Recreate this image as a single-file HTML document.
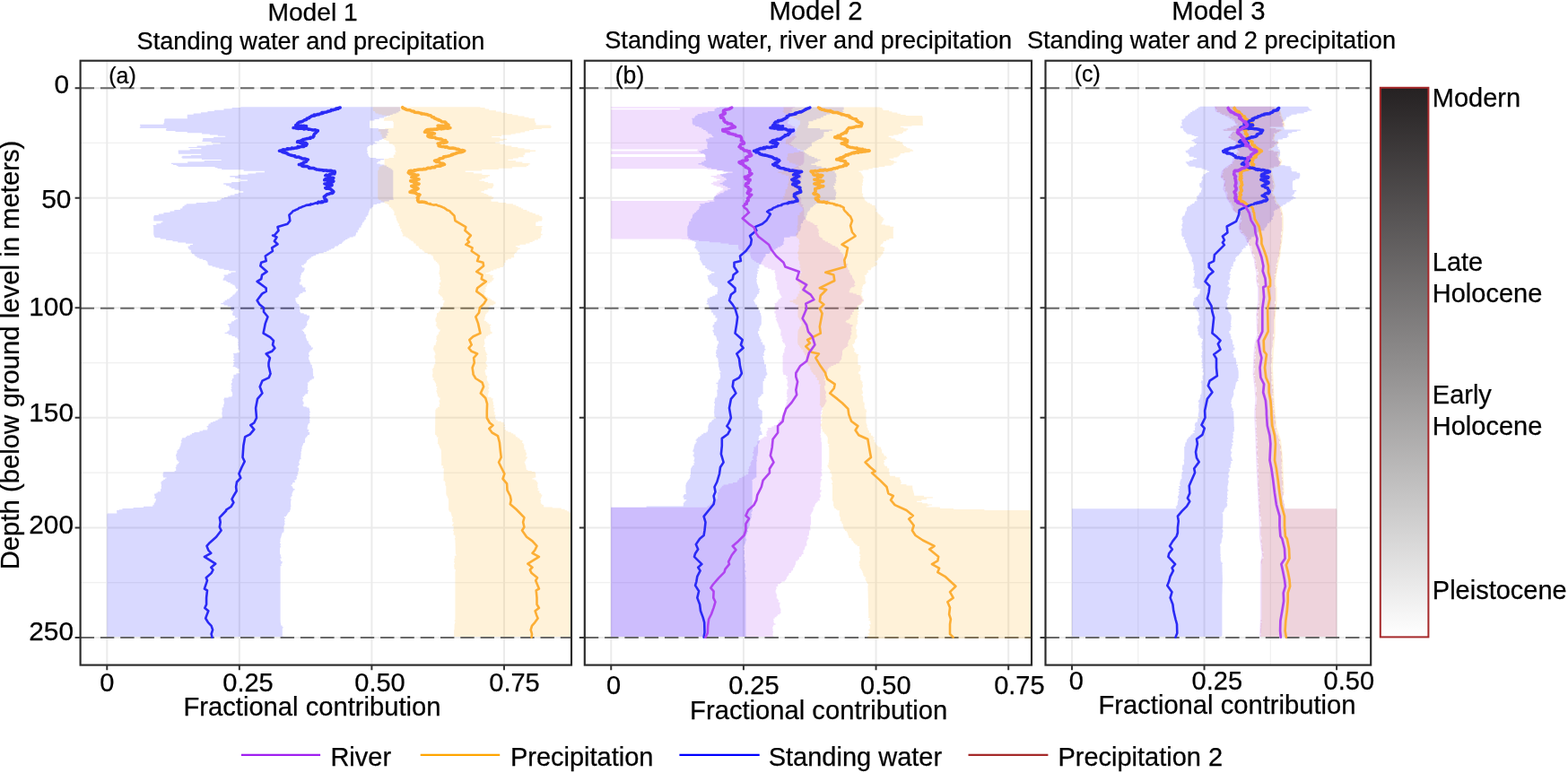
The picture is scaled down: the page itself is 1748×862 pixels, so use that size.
<!DOCTYPE html>
<html lang="en"><head><meta charset="utf-8"><title>Fractional contribution models</title>
<style>html,body{margin:0;padding:0;background:#fff}body{width:1748px;height:862px;overflow:hidden}svg{display:block}text{font-family:"Liberation Sans", sans-serif;fill:#000;stroke:#000;stroke-width:0.25px}</style>
</head><body>
<svg width="1748" height="862" viewBox="0 0 1748 862">
<rect width="1748" height="862" fill="#fff"/>
<defs><linearGradient id="cb" x1="0" y1="0" x2="0" y2="1"><stop offset="0" stop-color="#252122"/><stop offset="0.5" stop-color="#8f8d8d"/><stop offset="1" stop-color="#ffffff"/></linearGradient>
<clipPath id="cp1"><rect x="89.6" y="67.7" width="548.4" height="673.9"/></clipPath>
<clipPath id="cp2"><rect x="651.8" y="67.7" width="499.2" height="673.9"/></clipPath>
<clipPath id="cp3"><rect x="1165.5" y="67.7" width="363.7" height="673.9"/></clipPath>
</defs>
<g id="panel1">
<path d="M89.6 159.47H637.0M89.6 282.03H637.0M89.6 404.57H637.0M89.6 527.12H637.0M89.6 649.68H637.0" stroke="#f0f0f0" stroke-width="1.2" fill="none"/>
<path d="M89.6 98.20H637.0M89.6 220.75H637.0M89.6 343.30H637.0M89.6 465.85H637.0M89.6 588.40H637.0M89.6 710.95H637.0M119.30 67.7V741.6M266.85 67.7V741.6M414.40 67.7V741.6M561.95 67.7V741.6" stroke="#ebebeb" stroke-width="2" fill="none"/>
<path d="M89.6 98.20H637.0M89.6 343.80H637.0M89.6 711.00H637.0" stroke="#686868" stroke-width="2.05" stroke-dasharray="15.4 6.9" fill="none"/>
<g clip-path="url(#cp1)">
<path d="M268.2 119.3V120H258.6V121.3H249.5V122.7H238.9V124H231.4V125.3H224V126.5H215.7V127.8H208.8V129.1H208.7V130.3V131.5H209V132.3H183.6V133.2H183.1V134.6V135.9V137.3H182.3V138.7H156.1V140.2H156.5V141.8H155.8V143H185.5V144H184.9V145.1H185.3V146.1H195.5V147.1H208.7V148.3H225.1V149.5H233.8V150.6H242.8V151.7H251.2V152.8H238.1V153.9H226.2V155.2H226.1V156.5H225.4V157.9H235.7V159.3H245.8V160.4H237.2V161.4H229.7V162.5H219.6V163.9H210.3V165H224.3V166.2H211.7V167.5H198.7V168.9V170.3H198.9V171.7H224.2V172.9H212.9V173.8H203.2V174.7H202.3V175.7H203.2V176.8H224.9V177.9H246.7V179H227.6V180.3H209.2V181.7H190.9V182.9H193V184H196.7V185.1H198.5V186.1H239.6V187H242.4V187.9H247.1V189.2H271.7V190.7H294.9V192.2H285.2V193.4H276.4V194.7H265.5V196H256.3V197.4H262V198.9H268.1V200.5H275.9V201.8H267.6V203.1H258.1V204.3H249.2V205.7H252.1V207.2H255.7V208.7H257.8V210.2H261.5V211.8H266.6V213.3H271.2V214.7H265.7V216.1H261.5V217.4H256.7V218.6H253.7V219.9H249.9V221.1H247V222.3H245.5V223.5H242V224.7H231.3V226H218.7V227.2H207.7V228.5H205.5V229.9H203.7V231.2H203.2V232.6H201V234H194.3V235.5H189.4V237H182.4V238.4H176.8V239.9H171.8V241.3H171.2V242.7V244.1V245.4H171.4V246.6H181.4V247.8H179.4V249.3H174.3V250.9H170.7V252.4H171.2V254V255.6V257.1V258.7V260.3V261.8H171.6V263.1H171.8V264H172.6V265.1H178.6V266.5H185.1V267.9H192.4V269.2H198.2V270.5H207.1V271.7H214.9V273.1H211.9V274.6H209.6V276.1H209.8V277.5H211.2V278.8H212.8V280.2H212.7V281.7H213.9V283.2H216.5V284.7H217.6V286.1H219.5V287.4H222.3V288.7H226.2V290H229.5V291.3H231.1V292.5H231.6V293.7V295H232.5V296.2H236.6V297.4H240.4V298.6H244.3V299.8H249.6V301.1H255.2V302.3H262.7V303.6H257.4V305H254.3V306.4H249.5V307.7H250.3V309H249.7V310.2H248.9V311.5H248.5V312.7H252.2V313.9H253.8V315.1H256.8V316.4H259.2V317.8H261.6V319.2H262.3V320.5H262.9V321.9H265.2V323.3H265V324.6H263.4V325.9H262.6V327.2H261.6V328.5H259.6V329.8H258.6V331H257.1V332.2H255.6V333.5H253V334.8H250.6V336.4H248.8V337.9H246.3V339.3H249.6V340.5H253.7V341.7H257.5V343H257.1V344.4H257.4V345.7H257.8V347.1H259.9V348.4H259.1V349.6V350.9H259.5V352.1H261.8V353.3H261.9V354.5H264.9V355.8H262.6V357.1H261V358.3H258.3V359.6H257.5V360.9H253.8V362.2H254.8V363.5H255.3V364.8H255.8V366H255.7V367.3H255.8V368.5H254.5V369.6H253.2V370.7H250.6V372H254.7V373.5H258.5V374.9H261.9V376.4H264.5V377.9H265.3V379.4H265.6V381H265.2V382.5H265.5V384H265.2V385.5H265.7V386.9H265.9V388.2H265.2V389.5H266.4V390.8H267.2V392.1H267.1V393.2H263.7V394.1H259.9V395.3H260.6V396.7H260.5V398.1H260.3V399.6H261.2V401H260V402.5H261.3V403.9H260.1V405.2H260.8V406.5H260.3V407.7H259.6V408.9H262.5V410.1H264.3V411.3H266.7V412.6H266.5V413.8V415H267.2V416.3H263.4V417.7H260.4V419.1H260.3V420.6H260.4V422.1H258.9V423.7H258.3V425.2H259V426.7H257.9V428.2H257.6V429.7H258.5V431.2H257.6V432.6H258.3V434.1H257.5V435.6H258.1V437H258.8V438.5H259.1V440V441.4H258.3V442.6H254.6V443.5H250V444.8H249.3V446.3H249.7V447.9H250V449.5H249.7V451.1H249.1V452.6H249.2V454.2H247.7V455.8H247.4V457.3H247.8V458.9H247.5V460.5H247.3V462.1H247.5V463.6H247.8V465.2H247.5V466.5H244.5V467.6H242.7V468.7H240.2V469.9H237.3V471.1H234.7V472.4H232.7V473.6H232.3V475H230.6V476.5H231.6V478.1H231.2V479.4H226.1V480.6H222.4V481.9H216.4V483.1H213.9V484.4H211.7V485.7H208.2V487H206.9V488.3H203.1V489.6H202.5V491H201.8V492.3H202.4V493.7H201.6V495.1H201.5V496.5H201.1V497.9H200.4V499.4H199.8V501H198.4V502.5H197.2V504H197.4V505.5H196.6V507.1H196V508.6H196.5V510.1H196.6V511.7H196.9V513.2H198.3V514.7H199.6V516.1H199V517.3H197.5V518.5H196.4V519.8H196.5V521.1H195.7V522.3H196.2V523.6V524.9H194.6V526.2H182.3V527.5H181.6V528.8V530V531.3H182V532.4H185.5V533.5H183.9V534.7H182.1V535.9H180.5V537.3H179.4V538.9H179.6V540.5H180V542H179.7V543.6H179.9V545.2H178.9V546.8H179.1V548.2H175.8V549.4H174.3V550.6H172.1V551.9H172.2V553.3H172.8V554.6H172.3V556H174V557.4H173.6V558.9H173.1V560.4H171.7V561.8H171.6V563.3H170.2V564.7H160V565.9H148.6V567.1H136.4V568.2H132.7V569.1H130.1V570.2H130.2V571.6H130.3V572.5H119.7V573.6H119.3V575.2V576.8V578.4V580V581.6V583.2V584.8V586.4V588V589.5V591.1V592.7V594.3V595.9V597.5V599.1V600.7V602.3V603.9V605.5V607.1V608.7V610.3V611.9V613.5V615.1V616.7V618.3V619.9V621.5V623.1V624.6V626.2V627.8V629.4V631V632.6V634.2V635.8V637.4V639V640.6V642.2V643.8V645.4V647V648.6V650.2V651.8V653.4V655V656.6V658.2V659.7V661.3V662.9V664.5V666.1V667.7V669.3V670.9V672.5V674.1V675.7V677.3V678.9V680.5V682.1V683.7V685.3V686.9V688.5V690.1V691.7V693.2V694.8V696.4V698V699.6V701.2V702.8V704.4V706V707.6V709.2V710H315.7V709.3H314.8V707.8V706.3V704.8V703.3V701.9V700.4H315.6V698.9H314.6V697.4H313.2V696H313V694.5H312.7V693V691.5H312.6V689.9V688.3V686.7V685.1V683.5V682V680.4V678.8V677.2V675.6V674V672.4V670.8V669.2V667.6V666V664.4V662.9V661.3V659.7V658.1V656.5V654.9V653.3V651.7V650.1V648.5V646.9V645.3V643.8V642.2V640.6V639V637.4V635.8V634.2V632.6H312.5V631.2H313.7V630H313.3V628.8H314.4V627.4H314.8V625.9H313.2V624.3H312.4V622.8H313.7V621.3H312.9V619.7V618.2H312.1V616.7V615.2V613.6V612.1V610.6H312.9V609.1H312.5V607.5H312.9V606H312.1V604.5H312.6V602.9H312.4V601.4H312.7V599.9H313.2V598.4H313.7V596.8H314.1V595.3H314.7V593.8H316.4V592.3H316.7V590.8H316.6V589.3H316.3V587.8H316.4V586.4H317V584.9H317.6V583.4H317.2V582H317.6V580.5H317V579H317.9V577.6H316.8V576.1H319V574.8H320V573.4H320.7V572.2H321.6V570.9H322.9V569.6H323.5V568.2H323.9V566.7H323.8V565.2H324.4V563.7H324.2V562.2H324.1V560.7V559.2H324.3V557.7H324.7V556.2H323.7V554.7H324.7V553.3H325.8V551.9H325.4V550.5H325.8V549.2H326.4V547.8H327.2V546.4H328.6V545H326.7V543.4H325.8V541.9H324.6V540.5H326V539.3H326.4V538.1H328.9V536.7H328.4V535.3H330.3V533.8H331V532.3H330.5V530.9H331.5V529.3H332.4V527.8H331.9V526.2H332.8V524.6H333.1V523.1V521.5H331.8V519.9H332.8V518.4H334.1V516.8H333.2V515.3H333.6V513.8H334V512.3H335.6V510.7H335.3V509.3H335.4V507.8H335.5V506.4H335.7V505H335.5V503.6H336.2V502.1H336V500.7H336.7V499.3H336.5V497.9H337.1V496.5H337.9V495.3H338.2V494.1H339.8V492.8H340.1V491.4V490V488.7H340.8V487.4H342.3V486.1H343V484.9H344.9V483.6H345.2V482H343.7V480.5H344.3V479H342.6V477.4H342.7V475.9H342.9V474.5H343.3V473.3H344V472.1H345.3V470.7V469.2H345.4V467.7H345V466.2H345.7V464.7H344.9V463.2H345.4V461.7H345.1V460.2H345.8V458.7H345.1V457.2V455.7H344.5V454.5H341.9V453.6H338.3V452.4H337.6V451H338.6V449.6H338.5V448.1H337.7V446.7H337.2V445.2H338.1V443.8H337.5V442.3H339.1V440.8H340.4V439.3H343.2V437.8H343V436.4H343.8V434.9H342.7V433.5H343.1V432.1H342.8V430.7H343.1V429.2H343.3V427.8H342.8V426.4H344.6V425.1H345.6V423.8H347.6V422.6H349.9V421.2H350.2V419.6H349V418H349.2V416.4H348.9V414.9V413.6V412.2V410.8H348.1V409.4H347.8V408.1H347.9V406.7H346.5V405.3H345.7V403.8H345.5V402.3H344.7V400.7H344.1V399.1V397.6H345V396H344.2V394.4V392.9H345.1V391.6H346.5V390.2H348.2V388.8H349V387.4H346.9V386.1H346.4V384.7H344.9V383.3H343.8V381.9V380.3H342.2V378.8H341.8V377.3H340.9V375.8V374.2H341.2V372.8H339.6V371.4H339.1V370H338V368.7H336.7V367.4H338.7V366.1H340.2V364.9H340.7V363.6H342V362.2H342.5V360.9H342.1V359.5H342.3V358.2H343.2V356.9H344.1V355.6H344.9V354.3V353H345.1V351.8H342.1V350.6H338.8V349.3H335V348.1H334.3V346.8V345.5V344.2V343H334.5V341.6H333.5V340.2H333.3V338.9H331.4V337.5H330.2V336.1H329.6V334.8H329.5V333.4H329.4V332.1H331.7V330.9H333V329.6H333.5V328.3H334.8V327H337.4V325.6H341.1V324.3H340.7V323.1H340.1V321.8H340.6V320.5H337.5V318.9H336.8V317.4H333.9V315.9H333.8V314.4H335.3V312.8H335.5V311.3H334.5V309.8H335.3V308.3H335.2V306.8H336V305.4H336.2V304.1H337.7V302.7H338.9V301.3H339.5V299.9V298.6H337.1V297.2H336.1V295.7H338.8V294.2H340.7V292.7H341.8V291.3H342.3V290H343.7V288.7H345.5V287.4H347.2V286.1H349.4V284.9H352.2V283.6H355.4V282.3H360.7V281H364.1V279.7H366.7V278.4H369.2V277.2H372.4V275.9H373.3V274.6H376.9V273.3H378.2V272H380.9V270.7H381.9V269.5H383.4V268.2H385.1V266.9H387.4V265.7H389.6V264.6H393.7V263.5H396.2V262.3H396.8V260.8H397V259.3H398.9V257.9H398.7V256.4H400.3V255.1H400.4V253.7H402.5V252.3H402.7V250.9H403.7V249.3H404.2V247.8H405.7V246.3H406.5V244.8H408.1V243.2H407.6V241.7H409.2V240.2H410.5V238.6H410.7V237.1H411.2V235.6H411.8V234.1H412.3V232.5H414.5V231H415.8V229.5H416.4V228.1H420.1V226.9H424.3V225.7H428.5V224.4H433.8V223H438.7V221.5H438.3V219.9V218.4V216.8V215.2V213.7V212.1V210.5V208.9V207.4V205.8V204.2V202.7V201.1V199.5V198V196.4V194.8V193.2V191.7V190.1H437.4V188.6H435.5V187.2H433.1V185.9H431V184.5H428.4V183.4H423.8V182.4H420V181.2H421.6V179.7H424.1V178.2H428V176.9H419.3V176H412.3V174.9H411.2V173.6H410.3V172.4V171.1H409.2V169.8H410.1V168.5H409.3V167.1V165.7V164.3H410.2V163H411.9V161.8H416.1V160.6H420.2V159.5H418.2V158.6H417.6V157.5H422.8V156.1H425.6V154.9H427.8V154H430.7V152.8H430.2V151.3H432.2V149.8H431.4V148.2H433.3V146.7H432.2V145.2H433V143.9H422V143H412.4V141.8H412.1V140.4V138.9V137.4V136H412.2V134.5H417.5V133H422.8V131.4H428.2V130.2H430.9V129.3H434.8V128.1H437.8V126.8H441.7V125.4H444.4V124H446.3V122.7H446V121.3V120H445.9V119.3Z" fill="#0000ff" fill-opacity="0.15"/>
<path d="M415.7 119.3V120V121.3V122.7H416V124H417.9V125.4H418.8V126.5H421.7V127.5H425.6V128.4H430V129.3H435.5V130.2H432.1V131.1H428.8V132.3H428.2V133.6H427.9V134.8H438V136H438.7V137.4V138.9V140.4V141.8H438.5V143H429.3V143.9H422V145.2H421.7V146.7H424.3V148.2H424.1V149.7H425.7V151.1H425.5V152.4H426.1V153.8H427.4V154.9H428.2V155.9H430.5V156.9H433.3V158.2H433.8V159.4H434.2V160.6H437.7V161.8H439.5V163H439.8V164.3H440.6V165.7H440.3V167.1H440.8V168.5H441.6V169.8H440.2V171.1H440.7V172.4H438.9V173.6H438.6V174.9H439.2V176H433.4V176.9H428.4V178H428.6V179.3V180.6V181.9V183.2H428.7V184.3H426.2V185.2H423.8V186.3H422.2V187.5H422.6V188.7H422.1V190.1H421.2V191.7V193.2V194.8V196.4V198V199.5V201.1V202.7V204.2V205.8V207.4V208.9V210.5V212.1V213.7V215.2V216.8V218.4V219.9V221.5H422.1V223H424.7V224.4H427.4V225.7H429.2V226.9H431.7V228.1H433.5V229.5H434V231H435.7V232.5H437.5V234.1H438.4V235.6H439.5V237.1H439.6V238.6H439.3V240.2H441.4V241.7H441.3V243.2H442V244.8H442.1V246.3H443.1V247.8H443.6V249.3H444.9V250.9H444.4V252.3H445.8V253.7H445.9V255.1H447.5V256.4H447V257.9H447.9V259.3H448.5V260.8H449.4V262.3H448.8V263.6H452.3V264.7H454.6V266H456.3V267.4H458.2V268.8H460.6V270.1H461.2V271.5H463.6V272.9H463.7V274.2H466.5V275.5H467V276.8H468.2V278.1H470.6V279.4H472.4V280.7H473.5V282.1H476.7V283.4H480.4V284.8H482.4V286.2H482.9V287.7H483.2V289.2H484V290.6H485.8V292.1H487.2V293.6H488.7V295.1H489.4V296.6H490V298.2V299.7H490.2V301.2H489.7V302.8H489.6V304.3H489.2V305.8H490V307.3H490.2V308.9H490.8V310.4H490.5V311.9H491.5V313.4H491.3V315H489.8V316.5H489.9V318H490.8V319.6H489.6V321H490.3V322.4H489.1V323.8H488.9V325.1H488.5V326.5H488.8V327.9H490V329.3H491.1V330.6H493V332H493.8V333.4H493.4V334.8H495.5V336.1H495.3V337.5H494.3V338.9H494V340.2H494.3V341.6H492.8V343H491.8V344.5H491.3V346H490.3V347.4H488.8V348.9H487.1V350.3H486.9V351.7H487V353.1H486.4V354.5H485.5V355.9H485.4V357.5H485.7V359.1H486.6V360.6H486.5V362.2H485.8V363.8H487.3V365.4H487.9V366.6H489.1V367.5H490.7V368.7H490.2V370.2H488.9V371.6H488.8V373.1H487.6V374.6H486.5V376.1H486.7V377.6H486.3V379.1H487.1V380.6H486.3V382.2H485.8V383.7H485.6V385.1H483.8V386.3H483.6V387.5H483V388.8H483.1V390.2H483.6V391.6H484.5V392.9H485.1V394.4H485.6V395.8H484.6V397.3H484.4V398.8H484.7V400.2H485.3V401.7V403.2H485V404.6H485.4V406.1H484.3V407.6H483.6V408.9H483.7V410.1H482.9V411.3H481.7V412.6H482.3V414V415.3H482.6V416.7H482.1V418.2H482V419.7H482.2V421.2H483.4V422.7H482.7V424.1H484.2V425.4H485V426.8H485.8V428.2H486.3V429.6H486V431.1H487.4V432.5H486.7V433.9H487.2V435.3H486.3V436.8H487V438.2H487.3V439.6H487.8V440.9H487.7V442.2H489V443.4H490.6V444.8H490.5V446.3H489.4V447.8H489.9V449.3H490.2V450.9H489.5V452.4H489.9V453.8H487.8V455.2H486.2V456.7H485.4V458.3H485.3V459.9V461.4V463V464.6V466.2H485.2V467.7V469.3V470.9V472.5V474.1H485.1V475.6V477.2V478.8V480.4V481.9H485V483.5H485.1V484.9H486.4V486.1H486.8V487.4H488.6V488.6H488.1V489.9V491.2V492.5V493.8H487.8V495H488.9V496.3H489.4V497.6H490V498.9H490.4V500.2H491.3V501.5H491.8V503H491.9V504.5V505.9H492V507.4V508.9V510.3H492.1V511.8V513.3V514.7H492.2V516.2H492.1V517.8V519.3H493.9V520.8H493.4V522.3H494.9V523.9H494.7V525.4H494.6V527V528.6V530.1V531.7V533.3V534.8H494.4V536.3H495.9V537.7H496.6V539.1H496.3V540.4H496.6V541.9H497.3V543.5V545.1V546.6V548.2V549.8V551.3H497.6V552.8H498.6V554.2H498.9V555.6H499.9V556.9V558.3H500.1V559.8V561.2V562.6V564V565.4V566.9V568.3H500.3V569.6H501V570.7H502.6V572.1H503V573.5H503.3V575H503.7V576.5H504.8V577.9H504V579.4H504.2V580.8H504.3V582.2H505.7V583.7H504.9V585.1H504.1V586.5H505.6V587.9H505.7V589.4V590.8H504.9V592.3H506V593.8H505.6V595.3V596.8H507.3V598.4H507.6V599.9H506.9V601.4H507.4V602.9H507.5V604.5V606H507.6V607.5V609.1H507.7V610.6V612.1V613.6H507.8V615.2V616.7H507.9V618.2H508.6V619.7H506.8V621.3H507.1V622.8H506.3V624.3H506.4V625.9H506.1V627.4H506.9V628.9H506.3V630.4H506.2V632H506.4V633.5H506.7V635H507.9V636.6H507.6V638.1H507.4V639.7V641.2V642.8V644.4V646V647.5V649.1V650.7V652.2V653.8V655.4V657V658.5V660.1V661.7V663.2V664.8V666.4V667.9V669.5V671.1V672.7V674.2V675.8V677.4V678.9V680.5V682.1V683.7V685.2V686.8V688.4V689.9V691.5H506.7V693.1H507.5V694.6H507V696.1H506.6V697.6V699.2V700.7V702.2H506.1V703.6V705V706.4V707.9V709.3V710H639.9V709.2H640.3V707.6V706V704.4V702.8V701.2V699.7V698.1V696.5V694.9V693.3V691.7V690.1V688.5V686.9V685.3V683.7V682.2V680.6V679V677.4V675.8V674.2V672.6V671V669.4V667.8V666.2V664.7V663.1V661.5V659.9V658.3V656.7V655.1V653.5V651.9V650.3V648.7V647.2V645.6V644V642.4V640.8V639.2V637.6V636V634.4V632.8V631.2V629.6V628.1V626.5V624.9V623.3V621.7V620.1V618.5V616.9V615.3V613.7V612.1V610.6V609V607.4V605.8V604.2V602.6V601V599.4V597.8V596.2V594.6V593.1V591.5V589.9V588.3V586.7V585.1V583.5V581.9V580.3V578.7V577.1V575.6V574H639.9V572.7H636V571.6H634.3V570.2H632.2V568.9H629.7V567.7H625.7V566.6H615.8V565.5H606.3V564.3H606V563.1H604.4V561.9H603.3V560.5H602.7V559H603V557.5H602.4V555.9H603.1V554.4H603.8V552.9H604.3V551.4H602.9V550.1H601.3V548.7H601.4V547.3H599.5V545.9H600.3V544.3H599.2V542.8H599.4V541.3H599.2V539.8H599.7V538.2H598.8V536.9H597.9V535.6H595.9V534.4H593.5V533.3H595.6V532.4H597.4V531.3H597.2V529.9V528.5V527.2H596.4V526H592.8V525.1H588.4V523.9H586.8V522.3H586.4V520.8V519.3H585.9V517.8H585.4V516.2H584.7V514.8H585.6V513.4H586.3V512H587.2V510.7H587.9V509.2H586.1V507.7H586.9V506.2V504.6H585.8V503.1H585.9V501.6H584.5V500H584.3V498.5H584.1V497H584.4V495.5H583.4V493.9H582.1V492.4H582.6V491H580.2V489.8H579.1V488.6H577V487.3H575V485.9H574.6V484.5H572.2V483.2H569.8V481.8H566.3V480.4H563.9V479H562.3V477.7H563.3V476.3H561.5V474.9H562.9V473.5H561.6V472.2H561.7V470.9H558.8V469.7H554.8V468.4H552.9V467.1H552.2V465.5H552V464H552.5V462.5H551.3V460.9H551.7V459.4H550.7V457.9H550.6V456.4H551.5V454.8H549.9V453.3H550.7V451.8H549.8V450.3H550.1V448.7H549.7V447.2H549.2V445.7H549.6V444.2H547.5V442.8H544V441.4H543.7V440H544.2V438.5H544.8V437H545.3V435.6H544.3V434.1H545.2V432.6H545.3V431.2H544.3V429.7H545.7V428.2H544.7V426.7H544.1V425.2H543.2V423.7H542.7V422.1H543V420.6H543.2V419.1H541.8V417.7H541.2V416.6H541.3V415.2H540.6V413.7H540.8V412.1H542.5V410.6H542.2V409.1H543.5V407.7H543.1V406.5H542.1V405.2H541.2V403.8H542.1V402.3H542.7V400.7V399.1V397.6H541.9V396H543.3V394.4H542.3V392.9H541.6V391.4H540.9V390H540.6V388.5H541V387H539.1V385.5H539.8V383.9H540.5V382.4H540.3V380.8H539.9V379.2H540.1V377.7H541.7V376.1H541.9V374.7H544V373.5H546.3V372.2H548.5V371V369.8H546.8V368.6H546.7V367.3H546.4V365.9H546.7V364.5H546V363.2H547.3V361.8H544.9V360.4H543.4V359H541.9V357.7H539.7V356.2H540.4V354.7V353.2H541V351.6H541.4V350.1H542.5V348.6H544.3V347.1H544.8V345.7H545.2V344.4H543.9V343H544.6V341.7H546.4V340.5H550.2V339.3H552.4V338H552.5V336.6H550.7V335.2H548.3V333.8H546.5V332.4H544V330.9H541.7V329.3H540.2V327.9V326.6V325.4H541.5V324.1H540.4V322.8H541.9V321.5H541.3V320.1H542.5V318.7H543V317.3H543.7V315.9H546.3V314.4H548.3V312.8H549.9V311.3H550.6V309.8H549V308.3H549.7V306.8H546.3V305.4H541.5V304.1H544.8V302.9H546.9V301.7H550.2V300.5H553.6V299.2H557.4V298H561V296.8H561.6V295.5H562.3V294.2H562.1V292.9H563.5V291.6H563.6V290.2H565.9V288.7H569.8V287.2H573.2V285.8H573.1V284.6H572.8V283.4H573.9V282.1H575.7V280.7H576.5V279.3H577.7V277.9H579.7V276.6H577V275.2H574.9V273.9H579.5V272.7H586.2V271.4H590.5V270.1H593.7V268.8H596V267.4H599.9V266H602.3V264.7H602.8V263.6H602.9V262.2H604.6V260.8H603V259.3H603.3V257.8H603.8V256.3H604.2V254.8H603.6V253.3H604.6V252.1H597.3V251H597.2V249.8V248.6H597.5V247.5H600.1V246.6H604V245.4H604.5V243.8V242.3H603.8V240.9H601.3V239.5H596.9V238.1H593.6V236.7H590.2V235.4H587.4V234H583.2V232.6H580.9V231.2H578.1V229.9H575.4V228.5H571.9V227.2H564.3V226H555.5V224.7H547.6V223.5H547.4V222.3H549.6V221.1H550.2V219.8H548.3V218.4H544.4V217.1H542.4V215.9H539.5V214.7H536.5V213.3H539.9V211.8H543.7V210.2H548.9V208.7H549.8V207.2H550.4V205.7H549.8V204.3H544.1V203.1H540.2V201.8H534.4V200.5H537V199.2H541.2V197.8H543.9V196.4H546V195H537.4V193.4H527.9V191.9H518.8V190.5H537.1V189.1H555.9V187.7H570.9V186.3H586.9V185H589.1V183.6H590.7V182.1H582.4V180.6H574.9V179.1H566.4V177.7H571.9V176.5H577.8V175.3H583.8V174H583.4V172.8H585.1V171.6H585.4V170.3H591.1V168.9H597.1V167.6H590.7V166.4H584.6V165.2H577.3V163.9H570.3V162.5H563.2V161.1H557.5V159.8H552.2V158.5H556.7V157.2H561.3V156H565.1V154.7H557.5V153.3H548.2V152H559.2V150.6H569.6V149.4H574.7V148.5H580.4V147.5H585.2V146.2H590.1V145H595.1V143.9H603.9V143H614.2V141.9H614.6V140.5H613.7V139.4H597.4V138.3H597.6V137H596.7V135.7H596.3V134.4H595.9V133.1H596.3V131.9H589.5V130.7H584.5V129.4H577.5V128.2H571.2V127H565.2V125.8H559.1V124.5H552.9V123.1H545.3V121.6H540.7V120.1H535.4V119.3Z" fill="#ffa500" fill-opacity="0.15"/>
<polyline points="448.7,119.7 449.2,120.5 451.6,121.4 451.2,121.4 453.3,122.4 453.7,122.5 456.9,122.7 457.7,123.2 458.4,123.7 461.5,124.3 460.4,124.3 462.2,125.2 465.6,125.5 466.1,125.5 468.5,126.1 470.2,126.5 469.5,126.9 471.6,127.1 473.2,127.1 474,127.4 475.2,127.4 478.1,128.5 480,128.7 479.9,128.8 481.3,129.8 481.4,130.5 483.6,130.7 484.1,131.8 486.3,132.5 486.8,133 489.1,133.4 488.9,134 490.4,134.3 491.5,134.9 492.4,135.7 496.2,135.9 496.7,137 497.3,137.1 496.8,137.6 500.1,139.3 500.1,139.8 499.1,139.5 497.1,140.3 497.2,140.3 493.9,140.4 493.1,140.3 491,140.6 491.1,140.3 488.6,140.3 488.1,140.2 489.8,140.5 490.5,140.9 491.8,140.7 492.6,141.3 493.8,141.1 495.1,141.8 497.9,141.9 497.8,142 500,141.9 501.9,142.6 499,143.2 498,142.6 497,143.1 495,143 494.5,143.6 492,143.2 492.1,143.9 490.7,143.5 489.8,143.5 486.5,143.8 487.7,144.2 484.4,144.3 484.7,144 482.6,144.2 480.1,144.2 478.6,144.4 476.7,144.6 475.5,145.1 475.3,145 474.7,145.5 473.5,147.2 475.7,147.1 476.2,147.7 477.1,147.6 478.8,147.7 481.4,147.9 482.7,148.2 482.5,148.6 484.5,149 481.6,149 481.1,149.7 481.2,150.6 477.2,150.5 477.1,150.8 476.9,151.9 478.4,152.7 479.9,153 481.3,152.8 481.1,153.2 485,153.3 485.1,153.7 486,154.4 487,154.5 489.7,154.9 490.5,155.1 491.8,154.9 492.9,155.7 494.7,156.7 496.8,156.6 495.8,157.8 498.2,158.5 497.7,158.8 494.7,159.4 493.3,158.7 491.1,158.9 491.7,159.2 490.2,160.2 488.1,160 490.1,161.7 489.1,162.7 490.2,163.1 492.7,163.4 492.4,163.6 493.2,163.4 497.2,163.8 496.4,164.3 498.3,163.7 498.4,164.2 500.6,165.1 501.7,165.2 504.8,165 506.6,165.5 506.5,165.5 507.8,165.6 509.2,166.6 510.8,166.2 511.8,166.8 512.6,167.3 513.6,167.9 515.4,167.5 517.8,168.2 516.7,168.4 516.3,169 513.8,169.8 511.5,170.1 511.5,170.1 511,170.1 508.3,171 508.2,171.1 506.9,171.5 503.3,172.4 504.7,172.6 502.1,173.4 501,173.7 498.8,174.2 496.7,174.5 497.6,174.7 494.6,174.8 494.7,175.6 494,176.3 490.1,176.9 490,176.8 489.9,177.8 488.2,178.2 486.5,178.8 484.5,179.2 486.1,179.5 486.1,180.5 488.9,180.3 490.4,181.5 491.4,182.2 493.8,182.3 495,182.9 495.5,183.4 494.3,183.7 493.9,184.1 492.5,184.3 490.3,185.3 488.9,185 485.6,185.5 485.2,186.2 484.9,186.7 482.6,186.6 481.1,186.8 480.1,187.4 477.3,187.2 476.1,187.6 475.2,188.5 473.5,188.8 472.4,188.3 471.6,188.9 471.6,188.7 467.6,188.9 466.1,189.3 465.1,189.3 463.1,190 461.8,189.7 461.9,190.5 460.8,190.5 459.5,190.8 458.5,190.2 456.1,190.8 455.2,192.5 457,193.9 458.3,194.1 460.4,193.9 461.5,194.4 462,194.4 462.9,194.9 465,195.4 466.1,195.2 464.3,195.8 462.5,196.1 461.5,196.7 462.7,196.5 461,196.9 458.8,197.6 459.6,197.5 461.4,197.9 463.5,198.8 464.1,199.4 464.9,199.4 467.1,199.9 465.3,199.7 465.6,200.1 461.9,201.2 462.8,201.1 460.3,201.1 457.7,201.8 457.9,202.1 458.4,202.2 461.7,202.4 461.4,203.6 463.9,203.3 465.2,204.2 466.1,205 467.1,204.9 466.6,205.5 465.1,205.8 463.1,206.6 461.9,206.6 458.7,207.5 458.8,207.6 459.6,208 460.6,208.6 462.2,209.4 464,209.5 465.8,209.9 466.1,210.4 464.9,211.2 464.2,211.7 463.4,212 461.1,212.2 458.8,212.9 458.3,213.9 457,214.1 457,214.3 460.4,214.8 462.1,214.9 463.3,215.5 464.1,215.5 464.9,216.7 467.3,216.8 468,217.2 466.8,217.8 466.7,219.3 465.2,220.5 466.2,221.8 465.5,223.3 466.1,224.1 466.4,224.9 467.7,225.3 470.6,225.1 473.1,225.4 473.2,225.3 475.4,226.2" fill="none" stroke="#fcae35" stroke-width="3.5" stroke-linejoin="round" stroke-linecap="round"/>
<polyline points="475.4,226.2 475.2,226 477.1,227.2 479.8,227 478.9,227.7 480.8,227.9 483,228.4 483.5,228.6 486.3,228.2 487.3,228.8 489,229.7 490,229.6 491.5,230.2 492.6,230.7 493.6,231.2 495.3,231.8 496.1,232.5 497.4,233.1 497.9,234 500,234.7 501,235.1 502.1,236.2 502.5,237 503.8,237.8 504.5,238.8 505.6,239.7 506.5,240.6 507.4,246.1 519.3,253.1 518.4,257.1 524.8,262.6 521.1,267.2 523,269.9 519.3,272.7 526.6,276.3 525.7,280 534,285.5 532.1,291 538.5,292.8 539.1,296.5 531.2,302.9 537.6,306.6 536.7,311.2 541.8,313.9 532.1,321.2 531.2,324.9 537.6,329.5 542.2,334.1 539.5,338.6 534.9,343.2 534,348.7 530.3,353.3 533,360.6 535.4,371.6 527.5,375.3 523.3,379 525.7,384.5 522.6,388.1 525.7,391.8 532.1,394.5 528.1,399.1 528.8,404.6 526.6,410.1 527.5,416 527.5,417.4 530.3,422 537.6,426.6 539.1,431.2 535.8,438.5 541.3,444 543.1,450.4 542.8,458.7 542.8,466 545.9,471.5 549.5,474.2 545.3,477.9 548.6,482.5 555,486.1 556.9,493.5 557.8,502.6 558.7,510 556,515.5 558.7,521 562.4,528.3 560.5,533.8 565.1,539.3 565.5,546.6 568.8,553 569.7,557.6 568.8,562.2 576.1,568.6 577,569.5 584.4,577.2 583.1,582.3 584.4,587.8 582,591.5 587.1,598.8 593.5,603.4 598.5,608.9 596.3,613.5 593.5,616.8 600.9,620.8 588.4,628.7 593.5,632.7 590.8,635.5 592.6,639.1 599,644.3 597.2,647.4 600.9,656.6 597.7,658.4 598.5,666.6 598.5,674 600.9,678 596.6,681.3 598.1,685.9 599.6,689.5 596.3,694.1 593,697.8 591.7,702.4 593,707 592.6,710.6" fill="none" stroke="#fcae35" stroke-width="2.6" stroke-linejoin="round" stroke-linecap="round"/>
<polyline points="379.2,120 376.7,120.7 377.1,121.3 374.7,121 374.8,121.8 372.3,122.3 371.3,122.8 369.2,122.6 369.1,123.3 369,123.5 365.8,124.4 365.7,124.1 364.1,125 361.7,125.3 360.3,125.4 358.9,125.6 360.3,126.2 359,126.6 356.3,127 355.3,127.8 354.2,127.4 352.6,128.3 350.1,128.1 350.9,129 347.5,129.3 347.1,129.7 345.2,130.8 344.9,130.8 344.8,131.5 342.1,132.2 341.6,133.4 341,133.5 339.1,134 337.6,135.2 336.5,135.5 335,136 334,136.1 332.4,137.1 331.5,137.7 331.7,139.4 329.7,139.8 329.7,139.6 333,140.1 332.2,140.3 336.3,140.2 335.9,140.4 339,140.2 338.4,140.2 340.7,140.6 341.6,140.7 339.5,140.8 337.6,140.9 339.1,141.3 335.6,141.9 334.5,141.3 332.2,141.4 331.4,141.6 332.1,141.8 328.9,142.3 329.5,142.2 327,142.6 329.1,142.5 329.9,142.9 332.4,143.2 332.5,143.4 333.4,143 336.6,143.3 337.4,143.1 339.2,143.5 338.6,144 340.6,143.5 341.4,143.3 343.4,143.9 343.9,144.3 345.1,144.1 347.4,144.6 348.6,145.1 349.6,144.9 351.5,144.8 352.2,145.1 354.4,145.7 354.2,146.1 353.1,147 352.1,148.3 350.8,149 349.7,150.8 350,151.7 348.9,153 346.2,153.2 345.5,153.6 346.1,154.3 342.1,154.4 343.4,154.6 339.5,155.2 339.1,155.6 337.9,155.4 337.8,156.4 336.7,156.2 335,157.1 331.7,157.8 331.5,158.5 333.2,158.2 334.3,159.2 335.8,159.2 336.7,159.9 338,159.8 340.6,159.3 341.6,160 342.2,160.6 341.2,162.3 338.9,162.7 338.7,163.4 335.8,163.2 334.3,164 332,163.5 333.4,164.4 331.2,164.9 329.3,165 327.7,165.4 325.2,165.1 325.3,165.8 323.5,165.9 323.8,165.9 320.1,165.8 320.7,166.6 317.9,166.9 315.7,166.8 314.7,167.2 315.2,167.4 311.5,168.3 311.4,168.2 312.9,168.2 314.6,169.4 315.9,170 316.6,169.9 319,170.8 320.2,170.9 320.6,171.9 322,172.3 323.7,173 325.1,173.2 326,173.5 328.7,173.7 328.1,174.3 329.3,174.9 331,175.3 333.1,174.9 334.3,175.8 335.5,176 336.5,176.7 337.2,176.9 338.1,176.9 339.5,176.9 342.4,178 343.4,177.9 342,178.9 341.6,180.1 340.2,180.8 338.4,181.1 338.5,181.9 335.7,182.7 336.2,182.8 333.4,183.4 333.3,183.6 337.3,183.9 336.6,185 337.7,185.4 339.4,185.3 341.9,185.5 343.8,186.2 345.2,186.9 344.5,187.4 347.1,187.5 349.5,187.5 350.2,187.7 351.5,188.5 352.4,188.5 353.1,189.1 356,189.3 355.8,189.4 357.3,189.5 359.9,189.7 360.6,190.3 361.7,190 364.3,190 364.5,190.5 368.7,190.3 369.9,190.5 369.5,190.8 373.1,191.3 373.1,191.1 373.4,192 372.8,193.9 371.2,193.6 368.6,194.3 367.7,194.3 367,195.2 366.8,195.6 363.9,195.1 362.7,195.7 365.4,196 364.8,196.9 366.8,197.4 368.5,197.8 368.2,198.2 370.7,198.3 371.9,198.5 369.8,198.5 368.4,198.7 368.9,198.9 365.3,199.7 363.8,199.5 362.5,199.8 361.8,200.3 361.7,200.8 365.1,200.6 367.3,201.2 366.7,201.8 368.2,201.9 371.4,201.4 371.9,202.1 371.5,202.5 369,203.4 367.4,203 364.7,204.1 364.5,204.3 363.6,205 361.8,204.9 364.5,205.7 364.5,205.9 365.3,205.4 367.7,205.6 370.1,206.2 370,206.7 368.6,207 367,207.7 367.3,207.6 364.7,208.3 365.3,208.9 362.7,209.5 363.8,210.3 364.9,210.1 366.2,210.3 368.4,210.7 369.1,211.3 370.1,212.3 371.7,213.4 371.9,214.1 370.6,215 370.7,215.4 368.8,215.4 366.5,216.3 365.7,216.6 364.5,216.8 363.3,217.9 361.2,219.5 361.8,220.5 361.9,221.6 363.9,223 364,223.8 364,224.3 360.5,224.9 358.6,224.7 359.9,225.4 357.5,225.8 354.9,225.2 354,226.5" fill="none" stroke="#2a2af5" stroke-width="3.5" stroke-linejoin="round" stroke-linecap="round"/>
<polyline points="354,226.5 351.9,226.2 351.9,226.4 351.6,226.6 348.1,227.8 346.5,227.4 346.3,228.4 344.7,228.4 344.6,228.8 343.3,228.6 341.2,228.9 339.8,229.6 339.3,229.8 336.4,230.7 336.2,231 334.9,231.6 333.1,232.1 332.4,233.1 331.2,233.4 329.2,234.3 328.6,234.8 327,235.1 325.9,236.2 325.3,237 324.2,237.9 323.3,238.8 322.4,239.7 323.3,246.1 320.5,249.8 309.5,253.1 310.5,257.1 305.9,262.3 304,262.6 308.6,264.4 305.9,269 309.5,272.3 303.1,276.3 304,280 295.8,285.5 296.7,291 291.2,292.8 290.3,296.5 297.6,302.9 292.1,306.6 291.2,311.2 286.6,313.9 296.7,321.2 296.7,324.9 292.1,327.6 286.6,335 289.4,339.6 294,343.2 294,347.8 298.5,353.3 295.8,360.6 293.6,371.6 301.3,376.2 305,379.9 304,384.5 306.4,388.1 303.1,391.8 296.7,394.5 300.9,399.1 299.5,404.6 299.5,408.3 301.3,415.6 301.6,416.5 299.8,421.1 292.4,424.7 289.7,431.2 292.4,438.5 287,444.9 285.1,455 286,466 283.3,471.5 279.3,474.2 283.3,478.8 278.7,484.3 273.2,487.1 271.4,497.1 270.5,510 272.7,514.6 269.5,521 266.4,528.3 268.3,532.9 264,537.5 263.1,543 263.7,547.5 260.4,553 258.5,556.7 260.4,560.4 257.6,565 252.1,568.6 252.1,569.5 244.8,577.2 245.7,582.3 244.8,587.8 246.6,591.5 241.1,598.8 233.8,605.2 230.5,608.9 232.3,613.5 235.3,616.8 227.9,620.8 240.2,628.7 235.3,632.7 237.5,635.5 235.6,639.1 229.8,644.3 231,647.4 227.9,656.6 231,658.4 230.1,666.6 230.1,674 228.3,678 232.3,681.3 230.5,685.9 229.2,689.5 232,694.1 235.6,697.8 237.1,702.4 235.6,707 236.5,710.6" fill="none" stroke="#2a2af5" stroke-width="2.6" stroke-linejoin="round" stroke-linecap="round"/>
</g>
<rect x="89.6" y="67.7" width="547.4" height="673.9" fill="none" stroke="#2a2a2a" stroke-width="2.15"/>
<path d="M83.6 98.20H89.6M83.6 220.75H89.6M83.6 343.30H89.6M83.6 465.85H89.6M83.6 588.40H89.6M83.6 710.95H89.6M119.30 741.6V747.2M266.85 741.6V747.2M414.40 741.6V747.2M561.95 741.6V747.2" stroke="#333" stroke-width="2" fill="none"/>
</g>
<g id="panel2">
<path d="M651.8 159.47H1150.0M651.8 282.03H1150.0M651.8 404.57H1150.0M651.8 527.12H1150.0M651.8 649.68H1150.0" stroke="#f0f0f0" stroke-width="1.2" fill="none"/>
<path d="M651.8 98.20H1150.0M651.8 220.75H1150.0M651.8 343.30H1150.0M651.8 465.85H1150.0M651.8 588.40H1150.0M651.8 710.95H1150.0M681.25 67.7V741.6M828.90 67.7V741.6M976.55 67.7V741.6M1124.20 67.7V741.6" stroke="#ebebeb" stroke-width="2" fill="none"/>
<path d="M651.8 98.20H1150.0M651.8 343.80H1150.0M651.8 711.00H1150.0" stroke="#686868" stroke-width="2.05" stroke-dasharray="15.4 6.9" fill="none"/>
<g clip-path="url(#cp2)">
<path d="M681 119.3V119.9H681.4V120.7H758.1V121.5H757.8V122.3H681V123.3H681.1V124.8V126.4V127.9V129.5V131.1V132.6V134.2V135.7V137.3V138.8V140.4V141.9V143.5V145V146.6V148.2V149.7V151.3V152.8V154.4V155.9V157.5V159V160.6V162.1V163.7V165.3H681.6V166.5H777.9V167.5H777.3V168.4H681.1V169.5V171H681V172.1H785.6V173H786.5V174.1H786.2V175H681.2V176.2H681.1V177.7V179.3V180.8V182.4V183.9V185.5V187.1H681V188.2H788.8V189.1H798.8V190.3H805.2V191.6H811.3V193H806.3V194.4H799.1V195.9H792.6V197.3H795.8V198.5H798.5V199.7H802.7V201.1H799.3V202.6H794.9V204.1H792.8V205.6H795.4V207H798.7V208.3H803.5V209.7H806V211.1H805.6V212.5H802.9V213.8H801.2V215.2H799V216.5H798.5V217.8H797.3V219.1H796.3V220.4H797V221.7H795.2V223H788.8V224.1H681V225.3H681.1V226.8V228.4V229.9V231.4V233V234.5V236V237.6V239.1V240.7V242.2V243.7V245.3V246.8V248.4V249.9V251.4V253V254.5V256.1V257.6V259.1V260.7V262.2V263.5V264.6V265.7H681.9V266.5H759.7V267H766.8V267.8H779V269H790.9V270.2H803.4V271.5H812.4V272.9H823.1V274.3V275.9V277.4H823.7V278.8H826.9V280H832.4V281.2H836.7V282.6H836.2V284H836.4V285.5H837V287H837.2V288.4H838.7V289.9H840.6V291.4H843V293H846.2V294.4H849.2V295.6H851.5V296.8H852.4V298.2H856.1V299.7H859.9V301.2H863.9V302.8H863.2V304.3H864.2V305.9H864.3V307.5H864.7V309.1H864.2V310.6H864.4V312.2H865V313.7H866.4V315.3H865.6V316.8H866.4V318.3H866.2V319.9H866.1V321.4H866.3V322.9H868.3V324.4H868.8V326H868.7V327.5H869.9V329H870.5V330.6H871.5V332H870.1V333.5H867.7V335H867.3V336.4H865.7V337.9H863.6V339.4H864.2V340.8H863.6V342.3H863.5V343.8H863.4V345.2H864.6V346.7H863.4V348.2H863.3V349.6H864.7V351.1H864.8V352.6H864.3V354.1H865.6V355.7H864.9V357.2H865.9V358.8H866.6V360.4H867.5V361.9H867.7V363.5H868.2V365.1H868.9V366.7H870.2V368.2H870.6V369.8H870.4V371.4H870.2V372.9H870.1V374.5H871.6V376.1H871.5V377.7H872.5V379.2H871.9V380.8H872.9V382.4H874.7V383.9H875.2V385.5H876V387.1H875.1V388.7H874.4V390.2H874.3V391.8H874.4V393.4H873V394.9H873.1V396.5H872.2V398.1H872.6V399.6V401.2V402.7V404.3V405.9V407.4V409V410.5V412.1V413.7V415.2H873.1V416.7H873.3V418.1H876V419.5H878V420.9H876.4V422.4H877.5V423.8H877.7V425.3H878.2V426.8H877.8V428.2H877.3V429.7H877.7V431.2H878.8V432.6H878.7V434.1H877.4V435.5H877.3V437H877.2V438.4H876.9V439.8H877.6V441.2H877V442.7H878.2V444.1H877.7V445.5H876.6V446.9H877.3V448.4H876.6V449.9V451.5H875.8V453H875.4V454.5H875.1V456.1V457.6H875V459.1H873.9V460.6H872.3V462.2H872.7V463.7H872.2V465.2H871.3V466.7H870.6V468.2H868.4V469.7H868.5V471.1H867.1V472.6H867.6V474.1H862.9V475.6H860.2V477.1H855.7V478.6H856.2V480H855.2V481.3H854.4V482.7H854.7V484.1H854.2V485.5H855V486.8H851.6V488.2H849.7V489.6H847.5V491H845.9V492.3H844.1V493.5H844.7V494.7H844.2V495.9H843.4V497.1H842.6V498.4H840.2V499.7H840.7V501.2H840.2V502.6H840.1V504.1H839V505.6H840.2V507H840.3V508.5H839V510H838.7V511.4H839.8V512.9H838V514.4H837.2V515.8H836.5V517.3H837.1V518.8H836.2V520.2H834.9V521.7H835.1V523.2H833.8V524.6H834.7V526.1H834.2V527.6V529H831.6V530.4H829.4V531.7H826.8V533.1H824.1V534.4H823.6V535.6H822.1V536.9H821.7V538.1H817V539.3H811.9V540.5H806.5V541.8H804.8V543.2H803.7V544.6H802.5V545.9H801.4V547.4H801.7V548.9H799.8V550.4H800.2V552H799.9V553.5H800V555V556.6H798V558.1H795.9V559.6H794.3V561.1H792.3V562.7H790.8V564.2H788.7V565.7H681.4V566.9H681.1V568.1V569.7V571.3V572.8V574.4V576V577.6V579.2V580.8V582.4V583.9V585.5V587.1V588.7V590.3V591.9V593.5V595V596.6V598.2V599.8V601.4V603V604.6V606.1V607.7V609.3V610.9V612.5V614.1V615.7V617.2V618.8V620.4V622V623.6V625.2V626.8V628.3V629.9V631.5V633.1V634.7V636.3V637.9V639.4V641V642.6V644.2V645.8V647.4V649V650.5V652.1V653.7V655.3V656.9V658.5V660.1V661.6V663.2V664.8V666.4V668V669.6V671.2V672.7V674.3V675.9V677.5V679.1V680.7V682.3V683.8V685.4V687V688.6V690.2V691.8V693.4V694.9V696.5V698.1V699.7V701.3V702.9V704.5V706V707.6V709.2H681V710H862.4V709.3H861.7V707.9H861.4V706.4H861.8V705H862.1V703.6H861.3V702.2H861.7V700.8H861V699.4H861.8V698H862.3V696.7H864.5V695.3H862.8V693.9H862.4V692.5H862.6V691.2H862.3V689.7H863.7V688.3H865.6V686.8H867V685.3H869.3V683.9H870.4V682.4H870.3V680.8H870.5V679.3H870V677.8H869.2V676.3H869V674.7H869.3V673.2H869.6V671.8H867.6V670.3H868.2V668.8H867V667.4H865.7V665.9H865.8V664.3H866.2V662.8H865.4V661.3H864.7V659.8H864.6V658.2H865.1V656.8H865.8V655.4H865.4V654H867.3V652.7H867.1V651.3H870V649.9H871.3V648.5H874.8V647.2H876V645.8H877V644.4H877.1V643H878.2V641.7H879.4V640.3H879.6V638.9H881.8V637.5H882.4V636.2H884.1V634.7V633.2H885.4V631.7H886V630.1H886.8V628.6H887.1V627.1H887.2V625.6H889.4V624H890.8V622.5H890.9V621H893.1V619.4H893.9V617.9H895.7V616.4H895.4V614.9H895.6V613.3H896.9V611.8H897.2V610.3H897.7V608.8H899.4V607.2V605.6H899V604.1H899.5V602.5H900.4V600.9H901.4V599.3H900.1V597.8H901.6V596.2H902V594.6H902.1V593.1V591.5H903.5V589.9H903.3V588.4H903.1V586.8H903.4V585.2H904.1V583.6V582.1V580.5V578.9V577.4V575.8H903.3V574.2H904.2V572.7H904.8V571.2H905.8V569.7H906.5V568.3H906.9V566.8H906.4V565.4H908.1V564H908.4V562.5H909.2V561.1H910.4V559.7H911.7V558.3H913.9V556.9H913.5V555.3H914.4V553.8H915V552.3H914.5V550.8H913.9V549.2H915.3V547.7H915.7V546.2H914V544.6H914.3V543.1H914.7V541.6H914.6V540.1H914.5V538.5H914.7V537H915.3V535.5H916.2V534H914.6V532.4H915.3V530.9H916.4V529.4V527.8H915.8V526.3H915.5V524.8H916.5V523.3H915.7V521.7H915.9V520.2H916.1V518.7V517.2V515.6V514.1V512.6V511V509.5V508V506.5V504.9V503.4V501.9V500.4V498.8V497.3V495.8V494.2H916V492.7H915.3V491.2H915.5V489.7V488.1H914.7V486.6H915V485.1H914.3V483.5H915.1V482V480.4V478.8V477.2V475.7V474.1V472.5V471V469.4V467.8V466.2V464.7V463.1H914.8V461.6H916.3V460.1H915.1V458.7H915.8V457.2H916.2V455.7H916.7V454.3H918V452.8H919V451.3H919.9V449.9H920.3V448.4H921.4V446.9V445.4H920.2V443.8H920.8V442.3H920.6V440.8H920.1V439.3H920.9V437.7V436.2H920V434.7H919.4V433.1H919.1V431.6V430.1H920.3V428.6H920.2V427.2H919.9V425.8H920.2V424.3H918.5V422.9H919.7V421.5H919.2V420.1V418.6H919.6V417.2H918.9V416.2H920V415.3H922.4V413.8H922.5V412.3H922.9V410.9H924.1V409.4H926.3V408.1H929.2V406.7H932V405.3H935.6V403.9H935.8V402.4H937.2V401H938.2V399.5H938.1V398H938.4V396.6H939V395.1V393.6V392.2V390.7H939.8V389.4H941.4V388.1H943V386.9H944.5V385.5H945.6V383.9H944.9V382.4H945.6V380.8H946V379.2H947.1V377.7H948.2V376.1H947.9V374.6H948.4V373.2H949.3V371.7V370.3H948.4V368.9H949.4V367.5H949.1V366H948.7V364.6H950.3V363.2H950.6V361.9H947.2V360.6H944.4V359.4H942.7V358.1H943.5V356.7H946V355.4H947.6V354H948.4V352.5H948.2V351H950.4V349.5H950V348H951.8V346.4H951.9V344.9H953.8V343.4H955.2V341.9H955.9V340.3H958.5V338.8H960.4V337.3H960.7V335.7H963.1V334.3H961.1V332.9H960.5V331.5H959.6V330.2H958.7V328.9H954.8V327.6H951V326.4H946.8V325.2H946.7V324H947.5V322.8H947.6V321.5H949.1V320.3H952.4V319.1H953.4V317.7H952.3V316.1H953.2V314.6H952.8V313H952V311.4H950.7V309.8H950V308.3H949.9V306.8H948.3V305.4H947.7V304.1H946.6V302.7H947V301.3H945.5V299.8H945.1V298.3H944.5V296.9H944.6V295.4H945.3V293.9H943V292.3H942.7V290.7H942.4V289.2H942.2V287.6H940.6V286H940.3V284.4H940.1V282.9H938.6V281.5H936.5V280H936.8V278.5H935V277.1H934.1V275.6H931.2V274H927.7V272.5H925.5V271H922.9V269.5H919.7V267.9H917.4V266.5H916.5V265.1H914.4V263.7H913V262.3H912.7V260.9H913.1V259.4H912.2V258H912.8V256.6H912.4V255.2H911.4V253.8H910.5V252.3H911.4V250.9H907.8V249.6H905.9V248.2H903.4V246.8H900.2V245.4H898.4V244.1H897.7V242.7H897.1V241.3H896.1V239.9H896.4V238.4V237V235.5V234H896.2V232.5H895.9V231H894.6V229.5H895.3V228H893.3V226.4H893.2V224.9H892.8V223.4H893.3V221.8H892.9V220.3H891.7V218.8H891.4V217.3H891V215.7H891.8V214.2H890.4V212.8H891.4V211.3H891.8V209.8H891.6V208.4H891.9V206.9H892.2V205.4H891.9V204H892.6V202.5H892.4V201V199.6H893.9V198.1H893.8V196.6H893.7V195.2H894.3V193.7H894.6V192.2V190.8H892.3V189.3H892.5V187.8H890.9V186.4H890.4V185H893.1V183.8H895.2V182.6H895.8V181.2H896.4V179.6V178.1V176.5V174.9V173.3V171.8H896.7V170.3H895V168.9H892.4V167.5H889.2V166.2H888.1V164.8H885V163.4H883.8V162H882.1V160.7H880.1V159.3H882.2V157.8H883.4V156.3H885.1V154.9H886V153.4H887.9V151.9H886.5V150.3H886.4V148.7H886.6V147.2H886.9V145.6H885.2V144H886.1V142.4H886.2V141H883.3V139.8H881.3V138.6H878.3V137.2H878V135.6H879.5V134.1H878.4V132.5H879.9V130.9H879.1V129.4H880V127.8H879.3V126.2H880.5V124.7H883V123.1H882.4V121.6H883.7V120.1H886.3V119.3Z" fill="#a020f0" fill-opacity="0.15"/>
<path d="M802 119.3V120H798.6V121.3H796.6V122.7H796.5V124.1H789V125.6H782.7V127.1H777.6V128.7H775.2V130.2H774.3V131.7H771.3V133.1H771.8V134.4V135.7V137V138.3H772.6V139.6H775.1V141H779.3V142.3H782.2V143.7H784.1V145.1H786.8V146.5H788.7V147.8H789.3V149.2H792.7V150.6H794V152H795.3V153.3H790.5V154.7H787.1V156.2H787.2V157.7H788.5V159.2H788.8V160.7H788.3V162V163.4V164.8H789.1V166.1H785.4V167.3H782.5V168.5H779.3V169.8H781.1V171H784.8V172.2H786.1V173.5H786.5V174.9V176.3V177.6H787V179.1H784.8V180.6H781.9V182.1H778.5V183.5H782.8V184.7H785.5V186H787.7V187.2H793V188.6H799.4V190H806.7V191.4H816.6V192.7H809.4V194.1H803V195.5H804.6V196.9H806.9V198.2H809.2V199.6H809.9V201.1H807.6V202.6H805.6V204.1H802.6V205.6H805.9V207H808.5V208.3H811.1V209.7H814.3V211.1H811.3V212.5H807.7V213.8H806.6V215.2H802.7V216.5H800.4V217.7H797.9V218.9H796.4V220.3H795.6V221.8V223.4H796.4V224.7H790.8V226H785.7V227.2H780.2V228.5H781.2V229.9H779.5V231.2H779.7V232.6H778.9V234H777.4V235.5H775.9V237H774.2V238.4H772.4V239.9H771.9V241.3V242.7H771.2V244.1H769.9V245.4H770.3V246.8H768.2V248.2H768V249.6H767.8V250.9H767.1V252.3H766.3V253.8V255.2V256.6V258V259.4V260.9V262.3H766.2V263.6H767.4V264.7H767.2V266H769.3V267.4H771.5V268.8H774.3V270.1H775.9V271.5H775.2V272.9H775.4V274.3H775V275.6H774.3V277H776.2V278.4H777.4V279.8H778.2V281.1H779.9V282.6H778.6V284.1H779.7V285.6H780.3V287.2H780.1V288.7V290.2H781.3V291.7H781.9V293.2H782.8V294.7H783.4V296.1H786.2V297.6V299H788.1V300.4H790.5V301.8H792.9V303.1H796.3V304.4H792.9V305.7H791V306.9H788.5V308.2H789.3V309.7H789.1V311.2H789.5V312.6H790.4V314.1H790.9V315.6H792.9V317H793.7V318.5H796.5V320H799.6V321.4H800.3V322.8H800.1V324.2H800.2V325.6H799.5V327H799.7V328.3H797.2V329.7H794.2V331.1H791.3V332.5H788.7V333.8H788.6V335.2H788V336.6H788.8V338H787.7V339.4H789.9V340.9H790.4V342.5H790.3V344H792V345.5H793.1V347H793V348.5H794.9V350H795.2V351.5H797.6V352.9H797.3V354.4H799.5V355.9H799.4V357.4H798.4V359H796.5V360.5H796.3V362H794.8V363.5H794.4V365H795.6V366.5H795.7V368H794.4V369.4H795.2V370.9H795.9V372.4H795.8V374H797.7V375.6H798.7V377.1H798.9V378.7H799.3V380.3H801V381.8H801.2V383.4H800V385H799.7V386.6H798.9V388.1H799.6V389.7H798.5V391.3H798.3V392.8H798V394.4H798.8V396H798V397.6H798.9V399.1H800.2V400.7H800.6V402.3H800.4V403.8H801.4V405.3H800.8V406.8H801V408.2V409.6H801.8V411V412.4H802.5V413.9H803.6V415.3H802.3V416.7H803V418.1V419.5H803.1V420.9H802.9V422.4H801.7V423.8H800.8V425.3H800.5V426.8H798.4V428.3H800.2V429.9H799.9V431.4H800.2V433H800.4V434.6H799.2V436.1H799.3V437.7H799.6V439.2H799.5V440.7V442.2H798.7V443.6H797.1V445.1H796.8V446.6V448.2H796V449.8H797V451.3H796.8V452.9H796.3V454.5H796.5V456H796.2V457.6V459.1H795.9V460.6H796.2V462.2H796.4V463.7V465.2H798.2V466.7H795.6V468.2H793.7V469.7H792.7V471.1H790.9V472.6H790V474H789.6V475.5H789.2V477H789.5V478.4H789.2V479.9H789V481.4H787.4V482.8H784.1V484.3H782.1V485.8H780.4V487.2H778.1V488.7H776.6V490.3H775.6V491.8H776.7V493.3H775.5V494.9H774.5V496.4H773.9V497.9H773.7V499.3H773.5V500.8H772.8V502.3H772.3V503.7H773.6V505.3V506.8H772.5V508.4H773.5V510H774.3V511.5H774V513.1H773.5V514.7H774.3V516.2H773.4V517.7H773.5V519.1H772V520.6H770.8V522.1H770.2V523.5H770V525V526.5V527.9V529.4H769.2V530.9H769.6V532.3H769.1V533.8H768.1V535.3H766.8V536.7H765.9V538.2H765V539.5H764.6V540.9H764.3V542.3H764.4V543.7H764.5V545.2V546.6V548.1V549.6H765V550.9H762.7V552.1H762V553.4H761.1V554.6H762.3V555.8H762.4V557H765.2V558.3H763.9V559.6H762.7V560.8H761.8V562.1H761.9V563.4H761.6V564.6H720.6V565.8H681V566.9H681.1V568.1V569.7V571.3V572.8V574.4V576V577.6V579.2V580.8V582.4V583.9V585.5V587.1V588.7V590.3V591.9V593.5V595V596.6V598.2V599.8V601.4V603V604.6V606.1V607.7V609.3V610.9V612.5V614.1V615.7V617.2V618.8V620.4V622V623.6V625.2V626.8V628.3V629.9V631.5V633.1V634.7V636.3V637.9V639.4V641V642.6V644.2V645.8V647.4V649V650.5V652.1V653.7V655.3V656.9V658.5V660.1V661.6V663.2V664.8V666.4V668V669.6V671.2V672.7V674.3V675.9V677.5V679.1V680.7V682.3V683.8V685.4V687V688.6V690.2V691.8V693.4V694.9V696.5V698.1V699.7V701.3V702.9V704.5V706V707.6V709.2H681.2V710H832.2V709.2H831.4V707.6V706V704.4V702.9V701.3V699.7V698.1V696.5V694.9V693.3V691.7V690.1V688.6V687V685.4V683.8V682.2V680.6V679V677.4V675.9V674.3V672.7V671.1V669.5V667.9V666.3V664.7V663.2V661.6V660V658.4V656.8V655.2V653.6V652V650.4V648.9V647.3H831V645.7H831.8V644.2H831.3V642.7H831.1V641.1H830.7V639.6H830.6V638.1H831.8V636.6H830.6V635H830.2V633.5H830.7V632H830.8V630.4H831V628.9H830.7V627.4H830V625.9H830.6V624.3H829.6V622.8H830.1V621.3H829.3V619.7V618.2H830V616.7H829.9V615.2V613.6H828.9V612.1H829.8V610.6H828.9V609H829.5V607.5H830.5V605.9H831V604.3H831.4V602.8H832.2V601.2H831.5V599.6H831.2V598H831.6V596.5H832.5V594.9H832.9V593.3H834V591.8H833V590.2H834V588.6H834.8V587.1H835.7V585.5H835.9V583.9H835.7V582.3H835.8V580.8H836.5V579.2H836.7V577.6H837.8V576.1H837.4V574.5H838.2V572.9H837.4V571.3H838.3V569.8H839V568.2H838.7V566.6V565V563.4V561.8V560.3V558.7V557.1V555.5V553.9V552.3V550.7V549.1V547.5V546V544.4V542.8V541.2V539.6V538V536.4H838.4V535H839.8V533.8H841.6V532.6H843.4V531.2H843.3V529.7V528.1V526.6V525.1V523.6V522V520.5V519V517.5V515.9V514.4H843.9V512.9H843.5V511.4H843.7V510H843.6V508.5H844.6V507V505.5H845.1V504V502.4V500.8V499.2V497.7V496.1H845.2V494.7H846.2V493.5H846.7V492.3H846.8V491H845.5V489.8H846.3V488.6H845.6V487.4H846.1V486.1H846.9V484.9H849.7V483.6H849.3V482H848.9V480.5H847.5V479H848.3V477.4H847.7V475.9H847.2V474.5H847.6V473.3H848.7V472.1H850.3V470.8H849.7V469.3V467.9V466.5V465.1V463.6V462.2V460.8V459.4H849.8V458H848.7V456.8H846.9V455.6H845.9V454.2H845.4V452.6H846.4V451.1H844.9V449.5V447.9H845.1V446.3H845.4V444.8H845.3V443.3H847.1V441.9H848.4V440.6H849.4V439.2H851V437.8H850.6V436.4V434.9V433.5V432.1V430.7V429.2V427.8V426.4V424.9H851.9V423.5H851.8V422H853.6V420.5H853.4V419.1H854.6V417.7H855.5V416.6H855.1V415.3H854.3V413.8V412.3V410.9H853.7V409.3H854V407.8V406.2H852V404.6H851.8V403.1H852V401.5H851V399.9V398.3H850.3V396.8H852V395.2H851.2V393.6H851.9V392.1H852.2V390.5H853.5V388.9H852.5V387.4H852.7V385.9H852.4V384.5H850.2V383H850.3V381.5H848.3V380H848.9V378.4H847.6V376.9H847.3V375.3H846V373.7H846.1V372.2H844.9V370.6H845.1V369.1H846.5V367.6H846.2V366.1H846.8V364.7H847.3V363.2H848.4V361.7H848.8V360.1V358.5V357V355.4V353.8V352.3H848.3V350.7H848.1V349.1H847.2V347.5H847V346H845.5V344.4H844.7V342.8H843.8V341.3H844.1V339.8H842.2V338.4H841.6V337H840.9V335.7H840.2V334.2H841.6V332.6H842.7V331.1H843.8V329.5H844.2V327.9H845.8V326.3H846.7V324.8H846.2V323.2H847.1V321.7H845.4V320.2H845.2V318.6H844.6V317.1H844V315.6H843.6V314.1H843.4V312.6H844V311.2H843.1V309.7H843.9V308.2H844.1V306.8H843.8V305.3H844.9V303.8H844.2V302.4H845.6V300.9H844.5V299.4H846.4V298V296.5V295H848.4V293.6H848.7V292.1H849.6V290.5H850.7V289H851.1V287.5H852.5V286H853.5V284.4V282.9H857.7V281.5H859V280H862.6V278.5H864.7V277.1H866.8V275.6H870.1V274.3H871.9V272.9H873.5V271.5H873.3V270.1H873.6V268.8H874.3V267.4H874V266H874.1V264.7H880.6V263.6H887.9V262.3H889.2V260.8H889.8V259.3H890.2V257.9H891.7V256.4H892.4V254.9H892.6V253.5H893.1V252H892.5V250.5H893.1V249.1H895V247.6H895.2V246.1H896V244.7H898.1V243.2H898.7V241.7V240.2H899.9V238.6H899.8V237.1H900.6V235.6H902.5V234.1H903.1V232.6H903.6V231.2H905.9V229.9H907.1V228.5H909.1V227.1H914.7V225.7H921V224.4H925.2V223H931.2V221.6H931.8V220.1H931.2V218.6H932.1V217.2H932V215.7H932.5V214.2H931.6V212.8H931.5V211.3H929.7V209.8H930V208.4H929V207H931.1V205.8H930.1V204.6H931.9V203.3H931.5V201.9H932.3V200.5H931.9V199H931.5V197.6H932.8V196.2H932.3V194.7H932.2V193.3H930.7V191.9V190.6H928.1V189.4H925.5V188.3H921.5V186.9H915.8V185.4H910.2V183.9H904.4V182.4H908.7V180.8H911.7V179.3H914.6V177.8H911V176.5H907.9V175.1H904.7V173.7H901.6V172.3H899.5V171.1H897.8V169.9H896.8V168.8H896.1V167.5H898.9V166H900.6V164.6H902.8V163.2H905.1V161.9H905V160.7H904.7V159.6H905.5V158.4H908.4V157.3H910.5V156.1H912.5V155H915.5V153.8H917.1V152.5H918.4V151.1H918.1V149.7H918.5V148.2H918.6V146.9H924.1V145.8H928V144.5H914.2V143.1H900.5V141.6H900.7V140.2H901.1V138.9H902V137.7H901.2V136.6H901.5V135.3H906.5V133.7H910.3V132.2H914.9V130.7H917.9V129.1H921.2V127.6H925.4V126.3H932.7V125.1H940.4V123.9H939.4V122.6H940.7V121.3V120H940.5V119.4Z" fill="#0000ff" fill-opacity="0.15"/>
<path d="M873.3 119.4V120.1H873.6V121.7H873.8V123.3H872.6V124.9H873.8V126.4H876.4V127.8H879.5V129.3H881.6V130.7H884.6V132H887.3V133.1H889.2V134.3H892V135.6V137.2V138.7H891.2V140H890.1V141.2V142.3H888.4V143.6H888.2V144.9V146.3H887.2V147.6H886.3V148.9H887.2V150.3H886.4V151.7H883.1V153.2H879.6V154.8H876.8V156.3H876V157.8V159.4H875.7V160.7H879.1V161.9H881.1V163H884.1V164.4H888.5V165.9H892.1V167.4H895.9V168.8H890.5V169.9H884.8V171.1H878.4V172.3H878V173.7H878.3V175.1H877.3V176.5H877.2V177.8H877.4V179.1H879.7V180.2H880V181.4H883.3V182.5H886.7V183.7H890.1V184.8H888.2V186H886.4V187.1H884.6V188.5H878.3V190H873V191.5H867.5V193.1H871.4V194.6H876.1V196.1H879.5V197.6H879.4V199V200.5V201.9V203.3H879V204.8H878V206.4H878.6V207.9H877.8V209.5H877.4V211.1H875.7V212.6H875.6V214.2V215.7H874.6V217.2H874.9V218.6H873.1V220.1H874.2V221.6H872.2V222.9H877.7V224.1H881.9V225.4H888.2V226.7H889.5V228.2H891.4V229.6H892.6V231.1H894.3V232.6H895.1V234H894.8V235.5H893.2V237H891.4V238.4V239.9H889.3V241.4H889.5V243V244.6V246.1V247.7V249.3V250.8H888.9V252.3H888.5V253.8H889V255.2H888.3V256.6H889.4V258H889.2V259.4H887.6V260.9H887.2V262.3H887.7V263.7H888V265.2H889.6V266.7H891V268.2H890.9V269.7V271.1H891.6V272.6H890.5V274H890.1V275.4H890.8V276.8H890.4V278.3H890.3V279.7H889.7V281.1H889V282.5H889.7V284H890.2V285.4H890.1V286.8H889.6V288.2H890V289.7H890.4V291.1H891.3V292.5H891.2V293.9H891.4V295.4H892.2V296.9H891.2V298.5H892.5V300H892.2V301.5H893V303.1H893.8V304.6H891.9V306.1H892.4V307.6H890.1V309.2H890.2V310.7H889.4V312.2H888.1V313.7H889.4V315.3H890V316.8H890.8V318.3H892V319.9H891.5V321.4H892.9V322.9V324.5H890.9V326.1H891.5V327.6H889.5V329.2H889.6V330.8H887.9V332.4H887.6V333.8H884.3V335.2H880.5V336.7H884.3V338.2H886.7V339.7H889.8V341.2H889.5V342.6V344V345.5V346.9V348.3V349.7V351.2V352.6H889.6V354H890.5V355.5H891.4V357H891.9V358.4H893.9V359.9H893.3V361.4H893.8V362.8H892.9V364.3H891.3V365.8H890.9V367.2H889.8V368.7H889.5V370.2H889.4V371.6V373.1H889.3V374.6V376V377.5H889.2V379V380.4V381.9H889.3V383.4H889.8V385H891V386.6H892.1V388.1H893.2V389.7H895.4V391.3V392.8H896.6V394.4H897.2V396H898.4V397.6H898.3V399.1H899V400.7V402.3H899.6V403.8H899.7V405.3H900.7V406.8H901.4V408.2H903.2V409.6V411V412.4H904.5V413.9H904.6V415.3H906.1V416.7H907.1V418.1H909.1V419.5H909.2V420.9H911V422.5H910.7V424H912.8V425.5H912.9V427H912.6V428.6H914.8V430.1H914.2V431.7V433.3V434.8V436.4V438V439.5V441.1V442.7V444.3V445.8V447.4V449V450.5H913.8V451.9H914.9V453.2H915.4V454.4H917.6V455.8H916.1V457.3H917.1V458.9H916.4V460.5H916.8V462.1H916V463.6H915.4V465.2H916.8V466.7H916.2V468.2H915.1V469.7H916.4V471.1H916.1V472.6H914.6V474V475.5H916.1V477H915.6V478.4H917V479.9H916.9V481.4H918.5V482.8H919.3V484.3H920.8V485.8H922V487.2H922.7V488.8H922.9V490.3H922.7V491.9H922.6V493.5H922.8V495H924.4V496.6H923.5V498.2H924.2V499.7H924.3V501.2V502.6V504.1V505.6V507V508.5V510V511.4V512.9H924V514.3H924.1V515.7H923.5V517.1H923.6V518.5H922.4V519.9H922.8V521.4H924V523H924.8V524.5H925.7V526H925.2V527.5H926.8V529.1H927.3V530.7H927.5V532.2H926.3V533.8H927V535.4H927.9V536.9H928.3V538.5H927.1V540.1H928V541.6V543.1V544.6V546.2V547.7V549.2V550.8V552.3V553.8V555.3V556.9H927.8V558.4H928.7V559.8H929.2V561.3H929.1V562.8H928.9V564.2H929.6V565.6H930.2V567H931.9V568.3H933.3V569.2H935.9V570.3H935.7V571.9V573.4H935.6V575H936V576.6H936.9V578.1H936.8V579.7H936.6V581.3H938.3V582.8H938.5V584.3H939.8V585.8H939.7V587.4H940.4V588.9H940.7V590.4H942V592H943.7V593.6H944.8V595.2H945.3V596.7H945.9V598.3H946.3V599.9H948.8V601.4H949.5V602.9H951V604.5H951.9V606H953.4V607.5H955.6V609.1H958.2V610.6H958V612.1H958.3V613.6H958.5V615.2H958.1V616.7H958.2V618.2H959.3V619.7H958.2V621.1H959.1V622.5H958.9V624H958.8V625.4H957.9V626.8H957.7V628.3H958.4V629.7H957.7V631.1H958.5V632.6H958.7V634.2H960V635.7H961V637.3H961.6V638.9H962.2V640.5H962.4V642H963.4V643.6H965.2V645.1H964.5V646.6H965.2V648.2H966.1V649.7H966.9V651.2H967.9V652.8H967.4V654.4H967.5V656V657.6V659.1H967.6V660.7V662.3H967.7V663.9V665.5V667.1H967.8V668.7V670.3H967.9V671.9V673.5V675.1H968V676.7V678.3H968.1V679.9V681.5V683.1H968.2V684.6V686.2H968.3V687.8H967.9V689.3H969.6V690.7H968.4V692.1H970.2V693.4H970.3V694.8H970.7V696.3H969.1V697.7H969.9V699.1H970.1V700.5H969.4V702H968.2V703.4H969.5V704.8H969.3V706.2H967.6V707.6H968.7V708.9H967.1V710.1H966.9V711.4H967.9V712H1156V711.2H1155.2V709.6V708V706.4V704.9V703.3V701.7V700.1V698.5V696.9V695.3V693.7V692.2V690.6V689V687.4V685.8V684.2V682.6V681V679.5V677.9V676.3V674.7V673.1V671.5V669.9V668.3V666.8V665.2V663.6V662V660.4V658.8V657.2V655.6V654.1V652.5V650.9V649.3V647.7V646.1V644.5V642.9V641.4V639.8V638.2V636.6V635V633.4V631.8V630.2V628.7V627.1V625.5V623.9V622.3V620.7V619.1V617.5V616V614.4V612.8V611.2V609.6V608V606.4V604.8V603.3V601.7V600.1V598.5V596.9V595.3V593.7V592.1V590.6V589V587.4V585.8V584.2V582.6V581V579.5V577.9V576.3V574.7V573.1V571.5V569.9H1154.8V568.9H1097.4V568.1H1063V567H1047.9V565.6H1032.7V564.5H1035.5V563.6H1039.1V562.5H1033.9V561.3H1028.1V560.1H1022.1V558.7H1027.3V557.2H1033.1V555.6H1039.9V554.2H1030V552.8H1019.2V551.4H1019V550H1018.6V548.5H1018.1V547.1H1017.7V545.6H1017.4V544.2H1017.2V542.8V541.4H1010.5V540H1004.1V538.7H1005.1V537.4H1004.3V536.1H1004.1V534.8H1003V533.5H1003.4V532.2H998.1V530.8H992.1V529.4H991.6V527.9H991.8V526.5H990.8V525H991.2V523.5V522.2H989.2V521H989V519.7H986.5V518.5H985.6V517.1H985.2V515.7H986.1V514.3H985.3V513H987.3V511.6H988.8V510.1H988.1V508.6H985.6V507.1H985V505.6H983.3V504.1H983.1V502.6H983.2V501.2H982.3V499.7H981.9V498.5H979.3V497.6H978.3V496.4H976.8V494.9H976.3V493.3H974.7V491.8H975V490.3H973.6V488.7H974.5V487.2H972.9V485.8H971V484.3H971.1V482.8H968.8V481.4H969V479.9H967.7V478.4H967.4V476.8H966.3V475.3H966.8V473.8H966.2V472.2H965.6V470.8H965.5V469.3V467.9V466.5V465.1V463.6V462.2V460.8V459.4H966.2V457.9H965.7V456.3H964.1V454.7H963.7V453.2H963.5V451.6H963.9V450H963.6V448.4H962.3V446.9H962.2V445.5V444H962.3V442.5H961.8V441.1H960.6V439.5H961.8V438H962.1V436.4H961.4V434.8H960.8V433.3H961.2V431.7H961.9V430.1H961.8V428.6H961.2V427H961.7V425.5H960.4V424H959.3V422.5V420.9H959.2V419.5H959.3V418.1H958.5V416.7H956.8V415.2H957.6V413.7H959.2V412.1H959.1V410.6H959.7V409.1H959.6V407.8H959V406.9H956.5V405.7H956.4V404.1V402.5V401V399.4V397.8V396.2H957.2V394.9H954.7V393.6H953.6V392.4H952.2V391.1H952.8V389.6H952.3V388.1H951.3V386.7H950.8V385.2H950.4V383.7H952.2V382.3H953.3V380.8H953V379.3H953.7V377.9H954.8V376.4H955.7V374.8H955.6V373.3H954.7V371.8H954.8V370.3V368.7H955.4V367.2H954.2V365.8H954.1V364.3H954.7V362.8H954.8V361.4H956.3V359.9H955.8V358.4H956.3V357H955.7V355.5H955.8V354H956.6V352.5H956V351H957.3V349.4H956.4V347.8H957.8V346.2H956.4V344.7H956.5V343.1H956.7V341.6H958.1V340.1H960.1V338.6H961.2V337.2H962.6V335.7V334.2H962.5V332.8H961.6V331.3H961.4V329.8H960.2V328.4H960.4V326.9V325.4H961.3V324H960.4V322.5H961.5V321H961.2V319.6H962V318.3H962.5V316.9H964.5V315.5H965.4V314.1H964.6V312.6V311.2V309.7V308.2H963.8V306.8H965.9V305.4H966.6V304.1H968.2V302.7H967.5V301.3H970.9V299.8H971.5V298.3H973.8V296.9H976.3V295.4H977.9V294H977.7V292.6H975.7V291.3H977.7V290H979.1V288.7H979.3V287.4H981.4V286.1H982.1V284.7H983.4V283.2H984.6V281.7H984.5V280.1H985.9V278.6H985.8V277.1H986.2V275.9H984.6V275H981.4V273.7H982.2V272.2H983.9V270.7H984.9V269.1H988V267.6H991.3V266.1H996V264.7H995.8V263.6V262.2V260.6V259V257.4V255.8V254.3H996.3V252.8H992.2V251.6H986.9V250.4H982.6V249.1H983.3V247.7H983.8V246.4H984.8V245H985.5V243.6H984.2V242.1H982.5V240.6H981.3V239.2H979.5V237.7H978.3V236.2H976.3V234.8H977.2V233.3H976.3V231.8H975.7V230.4H975.5V228.9H972.1V227.6H969.9V226.2H966.9V224.8H965.3V223.4H963.9V221.8H963.5V220.3H962.2V218.8H961.7V217.3H962.2V215.7H960.9V214.2H961V212.8V211.3V209.8V208.4H960.8V206.9H961.8V205.3H961.3V203.7H962V202.1H962.3V200.6H961.8V199H962.8V197.4H962.3V196H961.5V194.6H960.6V193.2H959.7V191.8H957.5V190.6H961.8V189.4H968.3V188.3H972.8V187.1H979.7V186H986.4V184.8H993.7V183.7H995.8V182.5H996.6V181.4H999.6V180.2H996.6V179.1H993.1V177.9H991.5V176.8H996.3V175.6H1000.6V174.5H1002.1V173.4H1003.4V172.2H1003.9V171.1H1008.4V169.9H1014.5V168.8H1018.1V167.6H1016.9V166.5H1014.5V165.3H1011.3V164.2H1009.9V163H1007.7V161.9H1007V160.7H1005.9V159.6H1006.4V158.4H1003.4V157.3H999.3V155.9H997.8V154.4H993.5V152.9H990.7V151.5H996.2V150.4H1001.6V149.2H1005.8V147.9H1007V146.4H1010.5V144.8H1012.2V143.3H1007.4V141.9H1003.9V140.8H1016.5V139.9H1029.1V138.8H1028.7V137.4V136V134.6V133.2V131.8V130.4H1028.1V129.1H1009.7V128H1003.9V126.8H1000.3V125.6H994.5V124.2H991V122.9H984.5V121.5H983.4V120.1H980.9V119.4Z" fill="#ffa500" fill-opacity="0.15"/>
<polyline points="912.4,120 914.3,120.9 914,121.5 915.3,121.6 916.3,122.2 918.8,122.4 919.2,123 922.3,123.4 922.9,123.8 926,123.4 926,124.6 928.1,124.4 928.2,125.3 929,125.5 931.6,125.5 934.1,125.5 934,126.1 936,126.5 938.5,127.4 938.2,127.8 938.9,127.3 942.1,128.4 944,129 944.5,128.8 946.8,129.2 947.6,130.5 946.9,130.7 948.3,130.9 950.5,132.1 951.8,132.5 954.4,132.8 954.1,134.4 956,134.6 955.6,135.4 956.8,136.1 959.1,136.5 960.7,137.2 961,138 960.4,139.7 960.1,140.7 957.9,140.6 957.5,141 957,141 954.2,141 953,141.5 951.6,142.1 949,142.5 949.7,142.5 947.8,142.5 946.3,142.6 945.4,143.7 944.2,144.8 944.5,146.2 942.7,146.8 943.4,147.9 941.5,147.8 939.9,149 937.9,149.6 937.8,150.1 936.4,151.1 934,151.2 934.1,151.7 932.7,152.3 930.7,153 930.6,153.2 932.1,153.7 935.7,153.7 937.2,153.5 937.2,153.7 937.3,154.6 938.6,154.9 941.5,154.9 942.6,154.9 941.9,156.4 944.7,156.6 944.5,158.2 942.2,158.1 941.9,158.4 941.5,159.2 940,159.4 938.1,160 939.8,160.4 941.1,160.9 943.5,161.9 944.4,161.9 943.7,162.2 944.9,163.5 946.7,163.9 947.8,164.2 950,164.6 950.6,164.6 953.5,165.2 955.4,165.1 954.8,165.2 956,166.4 958.4,166.1 959.1,166.7 961.5,166.3 961,166.6 964.7,167.4 964.3,167.2 965.9,167.9 968.6,167.7 969.2,168.2 967.3,168.1 967.8,168.6 966.4,168.5 964.1,169 963.6,168.9 960.2,169.6 961,169.4 957.7,169.2 956.7,170.2 955,169.9 954.3,169.8 951.5,170.3 952.7,170.8 950,170.6 948.2,171.4 948.5,171.7 945.9,171.9 945.7,172.9 943,172.8 942.6,173.7 940.2,174.6 941.3,174.8 939.2,175.5 936.6,175.9 936.2,176.8 934.1,177.3 932.7,177.5 932.6,177.9 935.2,177.8 935.4,178.1 936.9,178.9 939.7,179.2 941,179.8 942.2,179.7 942.6,180.1 942.3,181.2 943.3,182.1 945.4,182.9 943.1,183.6 943.6,184.5 940.6,184.2 940,185.6 939,185.6 936.8,186 935.8,185.9 934.8,186.5 933.2,187.4 932.3,187.2 930.9,187.9 929.8,187.7 926.9,188.8 926.1,188.9 924.9,189.1 923.5,189.3 922.7,189.7 921.5,189.9 919.5,189.3 917.5,190.1 917.3,190 914,189.7 914.2,190.1 911.5,190.8 910.2,190.9 910,191.1 909.1,190.4 906.1,191.2 905.3,191 904.1,191.1 905.8,192.5 906.6,193.6 906.9,194.8 907.7,195.2 908.7,195.3 912.1,194.8 911.2,195.8 913.2,195.5 914.9,195.2 917,195.7 914.9,195.9 915.4,197.3 913.9,197.3 911.2,197.9 911.5,199.5 910.5,200 907.8,200.3 909.6,200.6 909.5,200.3 912.5,201.6 915,201.3 915.1,202 915.8,202.1 917.9,202.1 916.8,202.5 914.7,202.6 912.5,203.1 913.6,204 909.2,204.4 908.2,204.6 907.8,204.9 910.5,205.7 911.9,206.2 912.5,205.6 912.8,206.6 915.3,207.3 915.5,207.7 917.9,207.6 916.8,208.1 914.1,208.3 914,209.1 913.2,209.4 912,209.4 909.5,210.5 908.7,210.4 908.8,211.8 909.2,213.5 908,215 906.9,215.9 907.9,216.8 909.9,216.7 910.7,216.8 912.4,217.7 912.9,219.4 910.7,220.5 909.2,221.1 909.6,222.3 912.5,223.1 911.4,223.8 912.3,224.6 915.1,225.1 916.8,225.4 918.5,225 920.6,225.9 922,225.6 921.5,226.3" fill="none" stroke="#fcae35" stroke-width="3.5" stroke-linejoin="round" stroke-linecap="round"/>
<polyline points="921.5,226.3 924.9,226.3 924.4,226.4 925.8,226.7 928,226.9 930.6,227.5 929.9,228.2 933.1,228.2 932.2,228.9 934.4,228.9 937.2,229.6 936.9,229.9 939,230.5 940.7,231.5 940.5,232.5 940.7,233.6 941.5,234.8 942.7,236 943.6,237 944.7,238 945.2,238.8 946.2,239.7 947.2,240.6 948.1,241.5 950,246.1 948.1,251.6 950,259 953.6,263 953.3,263.5 938.6,272.7 945,276.3 943.2,285.5 941.3,290.1 942.3,297.4 920.3,303.8 929.4,306.6 930.3,313 913.8,321.2 921.2,323.1 914.8,329.5 913.8,335.9 918.4,339.6 913.8,344.1 916.6,349.6 913.8,364.3 914.8,371.6 900.1,379 902.9,382.6 898.3,386.3 904.7,392.7 912.9,394.5 909.3,399.1 914.8,408.3 920.3,416 920.6,418.3 922.5,422.9 930.7,428.4 929.8,433 925.2,438.5 933.5,444.9 939,449.5 945.4,455.9 946.3,462.3 949.1,469.7 956.4,475.1 953.6,479.7 957.3,485.2 967.4,489.8 968.3,495.3 970.1,505.4 971,510 964.6,515.5 970.1,521 975.6,525.6 972,527.4 981.1,535.6 988.5,543 990.3,550.3 995.8,553 993,557.6 997.6,563.1 1010.5,569 1017.8,575 1013.2,578.7 1018.7,586 1016.9,591.5 1020.5,597 1028.8,602.5 1041.6,608.9 1036.1,612.6 1046.2,620.8 1045.3,625.4 1038.9,629.1 1047.1,633.6 1045.3,638.2 1053.5,642.8 1065.4,653.8 1059,660.2 1062.7,666.6 1056.3,671.2 1059,677.6 1058.1,685 1059.9,690.5 1059,696 1059,707 1062.7,710.6" fill="none" stroke="#fcae35" stroke-width="2.6" stroke-linejoin="round" stroke-linecap="round"/>
<polyline points="902.9,120 902.3,120.3 899.4,121.3 897.7,122.1 898.5,121.9 896.4,123 895.7,123.4 894.3,124.3 894.1,124.2 892.4,125.1 891.5,124.7 890.1,125.4 886.4,126.2 887.3,127.1 884.6,127.4 882.3,128 881.9,128 880.1,127.9 879.9,128.8 877.2,129.7 877.7,130.7 877.3,131 876.1,131.6 875,132.4 872.6,133.4 872.6,133.8 869.8,134.5 867.4,134.5 867.5,135.7 864.7,135.9 864.4,136.8 863.4,137.1 864,138 861.6,139.8 863.1,139.5 865.2,140.5 866.4,140.3 865.7,139.9 867.7,140 868.8,141 870.8,141.1 872.6,140.7 872,141.2 871.1,141.3 868,141.3 866.8,141 864.4,141.7 864.4,142.3 863.3,142.4 861.5,142.3 861.2,141.9 858.9,142.6 858.8,142.6 861,142.8 861.7,142.6 863.2,143.2 864.3,142.7 867.7,143.3 867.1,143.9 869.8,144.1 871.7,143.8 872.6,143.9 873.6,143.6 876.7,144.2 876,144.1 878.2,145.2 878.9,145.2 881.2,145.1 882.3,145.5 884.5,145 884.5,145.7 882.3,146.2 880.9,147.1 880.9,147.9 879.9,149 878.7,149.1 878.7,150.6 875.1,150.7 875.8,151.3 874.5,151.9 872.6,153 871.8,153.8 870.3,154.4 870.3,155.2 866.4,155.2 865.3,156 865.3,156.3 863.1,156.4 861.4,156.7 860.7,157.3 860.2,158.4 858.9,158.5 860.9,158.6 860.9,159.3 862.3,159.4 865.8,159.6 865.7,159.3 867.1,160 865.8,161.6 864.6,161.7 865.3,163.3 864.2,163.3 862.8,163.4 860.3,163.6 860.4,164.2 857,164.4 857.8,164.4 854.4,164.1 855.7,164.3 851.4,164.5 852.8,165.6 850.9,165.8 848.8,165.5 848.3,165.5 845.7,166.5 845.2,167.1 843.9,166.9 841.6,168.2 840.5,168.2 842.2,168.5 842.8,169.9 843.6,169.5 846.5,170.7 846.4,171.1 847.4,171.9 848.8,172.3 850.6,172.8 853.3,173.3 852.9,173.1 854.7,173.4 856.9,174.2 857.3,174.3 859.5,174.8 860.1,174.9 861.6,175.6 861.6,175.7 863.3,177 865.8,177.1 865.1,177.8 868.3,178.4 868.9,179.2 867.6,179.5 867.4,180.7 865.1,181.9 864.1,181.8 863.4,183.2 861.6,183.4 863.3,184.5 864.4,184.4 866,184.7 868.3,185.8 866.8,186.1 869.8,187.3 870.8,187.5 873.3,187.7 874.6,188.1 874.9,188.8 876.7,188.8 875.9,188.9 879.4,189.3 879.9,189.7 879.9,190.2 882.3,190.3 883.6,190.1 885.7,190.4 888.1,190.7 887.8,190.8 890.3,191.2 889.5,191.2 893.5,191.3 893.7,191.5 891.4,191.6 891.2,192.8 890.6,192.8 887.1,193.2 887.4,193.9 885.5,194 884.5,194.8 885.7,194.8 887.5,195.2 887.3,196.4 888.2,196.1 890.9,196.6 889.6,196.8 887.8,198.3 887.6,198.3 885.1,198.9 885.1,199.5 882.7,200.3 884.8,201.3 884.8,201.4 887.8,201.7 889.5,201.9 889.5,202.4 890.9,203.1 889.1,204 887.2,203.8 888.7,204.2 886.6,205.3 884,205 883.6,205.8 885.5,206 886.7,207.4 888.9,208.1 889.1,208.6 891.9,209.1 891.9,209.5 891.4,211.3 892.5,212.5 892.8,214.1 890.5,214.9 890.8,214.5 888.2,214.9 888,216.1 886.2,216 885.4,216.8 885.7,218.1 885.3,218.8 887.3,220.5 888.4,222.1 888.7,222.5 889.1,224.1 887.7,224.2 886.4,224.5 884.1,225.5 883,225.3 883.5,225.6 880.1,225.7 878.1,226.6" fill="none" stroke="#2a2af5" stroke-width="3.5" stroke-linejoin="round" stroke-linecap="round"/>
<polyline points="878.1,226.6 879,226.7 876.3,226.9 875.2,227 872.4,227.7 871,228.4 871.3,229 869.1,229.2 867,229.6 867.5,229.9 865.3,230.5 864.2,231.3 862.3,231.8 860.8,232.8 860.8,233.5 859.5,233.8 857.2,234.6 856.1,235.4 855.2,236 856.5,236.9 857.9,237.8 858.9,238.8 854.3,246.1 849.7,249.8 841.5,253.1 843.3,257.1 836,263 837.8,267.2 836.9,272.7 831.4,280 825,285.5 825.9,291 818.5,292.8 818.5,297.4 822.2,302.9 817.6,306.6 816.7,311.2 812.1,314.5 819.5,321.2 819.5,324.9 814.9,328.6 813,335 816.7,339.6 819.5,344.1 822.2,353.3 821.3,360.6 819.5,371.6 827.7,379 825.9,384.5 828.6,388.1 821.3,394.5 824,400 825,408.3 826.8,416 826.8,416.5 824,421.1 817.6,424.7 816.7,431.2 820.4,438.5 814.9,444.9 813,455 814.9,466 812.1,472.4 810.3,475.1 814,479.2 811.2,484.3 804.8,488.9 804.8,497.1 803.9,506.3 806.6,515.5 803,521 802,528.3 799.3,537.5 796.5,543 797.5,548.5 795.6,553 796.5,557.6 795.6,562.2 790.1,569 784.6,575.9 786.5,582.3 785.5,591.5 784.6,597 780.1,600.7 775.8,607.1 778.2,612.6 775.1,617.2 774,620.8 782.4,629.1 778.2,632.7 780.6,636.4 777.3,642.8 776.4,648.3 775.1,652.9 779.1,659.3 777.3,666.6 780.1,674 781,681.3 783.7,688.6 785.2,694.1 785.5,705.1 784.6,710.6" fill="none" stroke="#2a2af5" stroke-width="2.6" stroke-linejoin="round" stroke-linecap="round"/>
<polyline points="815.8,120 814.1,120.9 814.2,120.7 813,121.6 809.2,122.4 808.5,122.2 807.7,123 806.6,123.3 806.4,124.9 808.5,126.1 808.1,126.8 806.6,127.6 805.3,127.8 803,128.8 803.5,129.7 803.6,131.2 806.1,131.2 806.6,132.5 807.5,133.6 806.9,134.6 808.5,136.2 809.6,136.2 811.1,137.1 811,137.9 812,137.6 815.5,138.2 815.8,138.9 816.8,139.9 818,140.7 819.5,141.7 818,142 815.2,142.7 814.4,142.3 813.3,143.5 812.1,143.5 811.2,143.8 809.5,143.9 808.6,144.4 805.7,144.6 805.7,145.3 805.9,146.1 809.6,146.8 809,146.8 812.6,147.6 811.6,148.5 814,149 815.7,149.4 816.6,149.5 818.1,150 820,150.3 820.4,151.2 821,151.3 823.3,151.7 825,151.7 826.2,153 826.5,153.9 826.8,155.4 826.3,156.9 827.9,157.4 829.5,159.1 829.4,160.1 825.9,160.9 825.2,162.2 824.5,163.2 824,163.7 825.5,163.9 826,165.6 827.9,165.5 828,166.3 829.5,167.3 829.6,167.9 832.7,167.9 833.5,169 835.8,168.7 836,169.5 835.3,171.2 836.7,171.6 837.8,173.2 837.4,173.4 835.9,174.3 833.3,174.6 832,175.4 831.4,175.6 831.6,176.7 833.2,178.3 833,178.5 830.4,179.1 827.8,179.3 828.7,180.4 826.2,180.3 824,180.7 824,181.1 824.8,181.8 825.9,182.4 828.9,183.6 828.5,183.7 828.8,184.5 831.4,185.6 831.2,186.6 833.3,187.1 835.3,188.6 835.7,189.7 836,190.2 835.7,192.2 838,193.7 836.9,194.8 834.2,195.7 835.8,195.5 834.1,196.8 830.3,197.2 830.5,197.6 832.3,198.6 831.3,199.5 832.5,199.3 836.2,200.5 836,201.2 834.1,202 834.5,202.8 834.4,204.2 831.9,204.8 831.4,205.8 831.1,207.2 832.6,208.1 834.2,208.6 834.1,209.5 834.7,210.3 836.9,211.3 836.3,212.7 834.2,212.8 835,213.7 833.2,215 833.4,215.5 835.3,216.6 835.3,217 837.8,217.2 836.9,217.8 835.5,219.7 834.6,220.2 833.5,221.3 834.1,222.3 834.1,223.8 832.4,224.7 832.3,226 832.3,227.3" fill="none" stroke="#b044f0" stroke-width="3.5" stroke-linejoin="round" stroke-linecap="round"/>
<polyline points="832.3,227.3 830.3,227.4 830.6,228.6 828.6,229.6 829.5,230.4 829.6,231.5 831.4,232.6 832.7,233.6 833.4,234.7 834,236.1 835,237 833.8,237.8 832.7,238.9 831.9,239.7 830.9,240.6 829.8,241.5 828.8,242.5 827.7,243.4 835,249.8 840.5,253.5 843.3,260.8 845.1,263 845.1,263.5 857,272.7 859.8,278.2 865.3,285.5 873.5,292.8 875.4,297.4 890.9,302.9 888.2,311.2 899.2,317.6 895.5,323.1 903.8,328.6 907.4,334.1 898.3,338.6 899.2,344.1 894.6,355.1 899.2,362.5 901,369.8 905.6,375.3 908.4,384.5 901.9,393.6 899.2,402.8 891.9,408.3 887.3,416 887.3,420.2 889.1,425.7 887.3,434.8 888.2,440.3 882.7,448.6 876.3,455.9 873.5,464.2 872.6,469.7 867.1,475.1 867.1,482.5 861.6,489.8 860.7,499 858.9,508.1 862.5,515.5 857.9,522.8 857.9,527.4 850.6,535.6 848.8,543 844.2,552.1 843.3,557.6 840.5,563.1 834.1,569 831.4,575 835,578.3 831.4,584.2 831.4,591.5 829.5,597 823.1,603.4 816.7,608.9 820.4,613.1 815.8,619 812.1,626.3 813,629.1 808.5,634.6 807.5,638.2 801.1,644.6 794.7,652 792.3,655.6 795.6,659.3 795.3,666.6 797.5,671.2 795.6,677.6 792.9,685 790.1,690.5 789.2,697.8 788.8,706 786.5,710.6" fill="none" stroke="#b044f0" stroke-width="2.6" stroke-linejoin="round" stroke-linecap="round"/>
</g>
<rect x="651.8" y="67.7" width="498.2" height="673.9" fill="none" stroke="#2a2a2a" stroke-width="2.15"/>
<path d="M645.8 98.20H651.8M645.8 220.75H651.8M645.8 343.30H651.8M645.8 465.85H651.8M645.8 588.40H651.8M645.8 710.95H651.8M681.25 741.6V747.2M828.90 741.6V747.2M976.55 741.6V747.2M1124.20 741.6V747.2" stroke="#333" stroke-width="2" fill="none"/>
</g>
<g id="panel3">
<path d="M1165.5 159.47H1528.2M1165.5 282.03H1528.2M1165.5 404.57H1528.2M1165.5 527.12H1528.2M1165.5 649.68H1528.2M1268.78 67.7V741.6M1416.33 67.7V741.6" stroke="#f0f0f0" stroke-width="1.2" fill="none"/>
<path d="M1165.5 98.20H1528.2M1165.5 220.75H1528.2M1165.5 343.30H1528.2M1165.5 465.85H1528.2M1165.5 588.40H1528.2M1165.5 710.95H1528.2M1195.00 67.7V741.6M1342.55 67.7V741.6M1490.10 67.7V741.6" stroke="#ebebeb" stroke-width="2" fill="none"/>
<path d="M1165.5 98.20H1528.2M1165.5 343.80H1528.2M1165.5 711.00H1528.2" stroke="#686868" stroke-width="2.05" stroke-dasharray="15.4 6.9" fill="none"/>
<g clip-path="url(#cp3)">
<path d="M1337.8 118.8V119.5H1335.7V120.9H1333.9V122.3H1332.1V123.6H1329.1V125H1327V126.4H1325.1V127.8H1324V129.2H1321.5V130.5H1321.2V131.9H1319.7V133.3H1317.3V134.7H1317.8V136.1H1317.4V137.4H1317.1V138.8H1318V140.2H1316.1V141.6H1315.8V143H1318.8V144.4H1319.2V145.7H1320.2V147.1H1321.8V148.5H1323.3V149.8H1328.5V150.9H1331.3V152.1H1335.4V153.3H1333.3V154.7H1330.5V156.1H1328.5V157.4H1330.6V158.5H1332V159.7H1334V160.9H1332.9V162.3H1330.8V163.7H1326.8V165.1H1326V166.4H1324.2V167.8H1321.7V169.2H1322.1V170.6H1324.4V172H1325.5V173.4H1325.7V174.7H1330.7V176.1H1334.1V177.5H1329.6V178.9H1326V180.3H1321.8V181.6H1322.9V183H1324.2V184.4H1325.5V185.8H1332.6V187.2H1339.6V188.4H1342.8V189.6H1345.7V190.7H1348V191.9H1345.5V193H1344V194.2H1341.6V195.4H1341.4V196.8H1339.9V198.2H1339.7V199.6H1340.6V201H1339.6V202.4H1339.1V204H1337.3V205.5H1337.1V207.1H1337.4V208.4H1338.1V209.6H1339.8V210.7H1339.5V212H1339V213.4H1338.7V214.8H1337.1V216.2H1336.7V217.5H1335.4V218.8H1333.9V220H1334.6V221.4H1333.8V222.8H1334.5V224.2H1332V225.5H1331.3V226.9H1328.7V228.3H1326.7V229.7H1324.2V231.1H1323.1V232.4H1322.8V233.8H1323V235.2H1321.7V236.6H1321.2V238H1321V239.4H1320.3V240.7H1318.5V242.1H1318V243.5H1317.3V244.9H1318.3V246.3H1318.1V247.6H1318.6V249H1318.1V250.4H1317.1V251.8H1317.9V253.2H1318.2V254.5H1317.1V255.9H1316.7V257.3H1317.4V258.7V260.1H1317.3V261.4H1317.2V262.8H1318V264.2H1320V265.6H1319.3V267H1321V268.4H1320.9V269.7H1321.2V271.1H1322.7V272.5H1322.1V273.9H1322.3V275.3H1323.1V276.6H1323.9V278H1324.3V279.4H1325.5V280.8H1325.4V282.2H1326.3V283.5H1327.4V284.9H1327.6V286.3H1328.7V287.7H1329V289.2H1328.6V290.7H1328.8V292.3H1330.1V293.9H1330.3V295.5H1330.8V297.1H1330.6V298.6V300.1H1330.2V301.5H1331.9V302.9H1331V304.3H1331.9V305.6H1331.8V307H1331.6V308.4H1330.8V309.8H1330.3V311.2H1330.9V312.6H1330.7V314H1330.3V315.5H1331.4V316.9V318.3H1331.7V319.6H1329.5V320.8H1334.2V322.2H1338.3V323.7H1337.6V325.2V326.7H1337.2V328.2H1335.5V329.6H1335V330.9H1332.6V332.3H1331V333.7H1331.6V335.2H1330.6V336.7H1330.1V338.1H1330V339.6V341.1H1331.7V342.5H1332.3V344H1334.1V345.5H1333.9V346.9H1335.3V348.4H1336.2V349.8V351.2H1336.4V352.6H1337.4V354.1H1336.4V355.5V356.9V358.3H1337.4V359.8H1337.3V361.2H1336.9V362.5H1335.4V363.9H1334.7V365.3V366.7H1335.5V368.2H1334.9V369.6H1336.2V371.1H1335.8V372.6H1335.6V374H1337.4V375.4H1337.6V376.8H1339.4V378.1H1341V379.6H1340.4V381.1H1339.9V382.6H1339.4V384.1H1340.2V385.6H1339.4V387.1H1339.6V388.6H1339.9V390.1H1340.5V391.6H1339.9V393.1H1339.6V394.6H1340.1V396H1339.2V397.5H1339.4V399H1340.1V400.4H1339.9V401.9H1339.4V403.4H1339.8V404.8H1340.7V406.3H1339.7V407.8H1340.7V409.2H1339.6V410.7H1341.3V412.3H1341V413.8H1340.5V415.3H1341.9V416.8H1341.7V418.4H1340.5V419.9V421.3V422.8H1341.1V424.3H1339.2V425.7H1338.6V427.2H1339.5V428.6V430V431.5V432.9V434.3V435.7V437.2V438.6H1339.1V440H1338.1V441.5H1338.2V443H1337.9V444.4H1337.2V445.9H1336.1V447.3H1335.7V448.8H1337V450.2H1336.3V451.6H1336.2V453H1336.1V454.4H1336.4V455.9H1336.6V457.3H1336.4V458.8V460.3H1335.9V461.8H1335.7V463.4H1335.8V464.9H1337.4V466.4H1335V467.9V469.3H1334.7V470.8H1332.7V472.3H1331.9V473.8H1331.8V475.3H1332.6V476.8H1332V478.3H1332.1V479.9H1330.5V481.4H1331.6V482.9H1329.5V484.4H1327.7V485.8H1326.8V487.3H1325V488.8H1323.7V490.3H1322.9V491.8H1322.8V493.3H1321.5V494.8H1321.2V496.4V497.9H1320.1V499.4H1320.2V500.9V502.3V503.8V505.2V506.7V508.2V509.6V511.1V512.6H1319.6V514H1320V515.5H1320.1V517H1319.8V518.4H1318.1V519.9H1318.2V521.4H1317.8V523V524.6H1318.8V526.1H1317.7V527.7H1317.4V529.3H1317.2V530.9H1317.4V532.4V534H1316.4V535.6H1315.7V537.1H1315.4V538.7H1315.1V540.3H1315.8V541.9H1314.1V543.4H1315V545H1313.7V546.6H1314.8V548.1H1313.8V549.7H1314.6V551.3H1313.8V552.9H1313V554.4H1312.9V555.8H1314V557.3H1313.3V558.8H1313V560.2H1312.6V561.7H1312.8V563.2H1311.9V564.6H1310.7V566.1H1311.2V567.3H1195V568.5V570.1V571.7V573.3V574.9V576.5V578.1V579.7V581.3V582.9V584.5V586.1V587.7V589.3V590.9V592.5V594.1V595.7V597.3V598.9V600.5V602.1V603.7V605.3V606.9V608.5V610.1V611.7V613.3V614.9V616.5V618.1V619.7V621.3V622.9V624.5V626.1V627.7V629.3V630.9V632.5V634.1V635.7V637.3V638.9V640.5V642.1V643.7V645.3V646.9V648.5V650.1V651.7V653.3V654.9V656.5V658.1V659.7V661.3V662.8V664.4V666V667.6V669.2V670.8V672.4V674V675.6V677.2V678.8V680.4V682V683.6V685.2V686.8V688.4V690V691.6V693.2V694.8V696.4V698V699.6V701.2V702.8V704.4V706V707.6V709.2H1195.7V710H1361.6V709.2H1362.4V707.7V706.1V704.5V703V701.4V699.9V698.3V696.8V695.2V693.6V692.1V690.5V689V687.4V685.8V684.3V682.7V681.2V679.6V678.1V676.5V674.9V673.4V671.8V670.3V668.7V667.1V665.6V664V662.5H1362.5V661V659.5H1362.6V657.9V656.4V654.9H1362.7V653.4V651.8H1362.8V650.3V648.8H1362.9V647.2V645.7V644.2H1362.8V642.7V641.1H1362.7V639.6V638.1H1362.6V636.6V635V633.5H1362.5V632V630.4H1362.4V628.9H1363V627.4H1361.6V625.9H1360.9V624.3H1360.7V622.8H1360.9V621.3H1360.4V619.7H1360.9V618.2H1360.5V616.7V615.2V613.6V612.1V610.6V609.1H1360V607.5H1360.5V606H1361.5V604.5H1361.9V602.9H1361.8V601.4H1362.3V600H1362.7V598.7H1363.2V597.3H1363.1V595.9H1362.5V594.4H1363.1V593H1363.6V591.6H1363.2V590.2H1362.3V588.8H1363.2V587.3V585.9H1363.3V584.4V583V581.5V580V578.6V577.1V575.6V574.2V572.7H1362.6V571.2H1364V569.8H1364.7V568.3H1365.2V566.8H1366.4V565.4H1367.8V563.9H1368.3V562.4H1368.1V561H1367.4V559.5H1368.3V558H1367.8V556.6H1368.8V555.1H1368V553.6H1368.1V552.2H1368.6V550.7H1368.2V549.2V547.7H1369.4V546.2H1368.5V544.6H1368.4V543.1V541.6H1369.1V540V538.5H1369.7V537H1369.6V535.5H1368.9V533.9H1369.3V532.4H1370.3V530.9V529.4H1369.3V527.8H1369.7V526.3H1370.7V524.8H1371.1V523.2H1369.9V521.7H1371.9V520.2H1371.6V518.7H1371.9V517.1H1372.7V515.6H1372.3V514.1H1374.2V512.6H1373.3V511H1373V509.5H1372.2V508V506.4H1372.8V504.9H1373.3V503.4H1372V502H1372.1V500.6H1373.5V499.2H1373.1V497.7H1373.8V496.3H1374.3V494.9H1373.1V493.5H1374.9V492H1374.5V490.6H1373.8V489.1H1374.9V487.7H1374.6V486.2V484.7H1375.2V483.3H1374.4V481.8H1375.7V480.3H1376.1V478.9H1375.9V477.4H1376V475.9H1375.7V474.4V472.8H1375.6V471.3V469.8H1375.5V468.3V466.7H1375.4V465.2V463.7H1375.3V462.1V460.6H1375.2V459.1H1375.5V458.2H1373.9V457.3H1374.7V455.9H1374V454.4H1372.8V453H1373V451.6H1373.2V450.2H1372V448.8H1372.8V447.3H1372.7V445.9H1373.2V444.4H1373.8V443H1374.5V441.5H1375.2V440H1375.4V438.5H1375.2V436.9H1375V435.4H1375.7V433.8H1377V432.2H1376.9V430.7H1377.4V429.1H1377.7V427.6H1377.8V426.2H1378.9V424.9H1380.5V423.5H1379.8V422H1380.7V420.5V419V417.5V415.9V414.4H1380.6V412.9H1380.3V411.3H1380V409.7H1379.2V408.1H1380V406.6H1378V405H1378.5V403.4H1378.1V401.9H1377.9V400.3H1377.5V398.8H1375.4V397.3V395.8V394.2H1373.7V392.9H1374.8V391.6H1374.6V390.4H1376.5V389H1376.6V387.5H1375V385.9H1375.7V384.3H1374.1V382.7V381.2H1374.2V379.6H1373.4V378H1372.2V376.5H1372.5V375H1371.9V373.5H1371.7V371.9H1370.5V370.4H1370.2V369H1371.6V367.6H1372.4V366.2H1371.7V364.8H1373.1V363.4H1372.1V361.8H1372.5V360.2H1372.1V358.7H1372.4V357.1H1372.6V355.5H1372.8V353.9H1372.7V352.4H1372.5V351H1371.8V349.5H1370.6V348H1369.5V346.6V345H1369.1V343.5H1367.8V341.9V340.3H1368.7V338.8H1368.1V337.2H1367.1V335.6H1367.6V334H1368.6V332.5H1369.8V330.9H1368.9V329.3H1370V327.8H1370.9V326.2H1370.7V324.6H1371.1V323.2H1372.1V322H1371.8V320.8H1370V319.6H1368.3V318.3H1369.3V316.9H1370.4V315.5H1369.9V314H1369.2V312.6H1370.7V311.2H1371.1V309.8H1371.5V308.4H1370.9V307H1371.8V305.6H1370.6V304.3H1370.9V302.9H1371.9V301.5H1372V300.1H1373.5V298.7H1372.6V297.3H1374.8V296H1374.5V294.6H1375.1V293.2H1375.2V291.8H1377.1V290.4H1377.6V289.1H1377V287.7H1377.8V286.3H1379.4V284.9H1381.2V283.5H1382.1V282.2H1383.3V280.8H1384.8V279.4H1384.5V278H1386.1V276.6H1388.8V275.3H1388.4V273.9H1391.1V272.5H1390.8V271.1H1392.3V269.7H1392V268.4H1392.7V267H1394.6V265.6H1395.2V264.2H1398.2V262.8H1399.3V261.4H1399.7V260.1H1401.8V258.7H1403V257.3H1409.5V255.9H1409.6V254.5H1410.8V253.2H1412.1V251.8H1412.7V250.4H1412.9V249H1415.2V247.6H1416.9V246.3H1417.2V244.9H1418.9V243.5H1418.3V242.1H1419.3V240.7H1420.2V239.4V238V236.6H1419.7V235.2H1421.4V233.8H1424.1V232.4H1426.3V231.1H1428.2V229.7H1430.3V228.3H1433.2V226.9H1434.4V225.5H1437.6V224.2H1439.3V222.8H1441.4V221.4H1444.4V220.1H1442.3V218.8H1440.4V217.5H1441.9V216.2H1443.1V214.8H1443.3V213.4H1445.2V212H1441.2V210.6H1440.9V209.3V207.9V206.5V205.1V203.7V202.3H1441.7V201H1444.1V199.6H1448.3V198.2H1448.8V196.8H1449.3V195.4V194.1H1449.1V192.7H1445.7V191.3H1440.1V190H1439.5V188.8H1439.9V187.6H1438.7V186.4V185.3H1432.6V184.2H1426.3V183H1426.6V181.6H1427.3V180.3H1425.9V178.9H1425.2V177.5H1425.6V176.1H1425.7V174.7H1426.5V173.4H1427.1V172H1427V170.6H1427.2V169.2H1427V167.8H1426.5V166.4H1424.8V165.1H1425.6V163.7H1424V162.3V160.9H1424.6V159.5H1424.3V158.2H1424.6V156.8H1424.8V155.4H1429.9V154H1434.7V152.6H1436.7V151.3H1435.6V149.9H1436V148.5H1440.4V147.1H1445.8V145.7H1449.8V144.4H1431.8V143H1431.4V141.6H1429.8V140.2H1429.7V138.8H1430.6V137.4H1428.9V136.1H1430.6V134.7H1432.6V133.3H1433.7V131.9H1434V130.5H1437.4V129.2H1439.5V127.8H1445.7V126.4H1453.7V125H1457.5V123.6H1462.3V122.3H1460.3V120.9H1459.2V119.5H1458.1V118.8Z" fill="#0000ff" fill-opacity="0.15"/>
<path d="M1354.5 118.8V119.5H1355.1V120.9H1355.6V122.3H1357V123.6H1356.7V125H1360.2V126.4H1362.2V127.8H1366V129.2H1369.7V130.5H1371.2V131.9H1374V133.3H1376V134.7H1377.1V136.1H1377.4V137.4H1379.7V138.8H1379.5V140.2H1375.1V141.6H1372.3V143H1368.3V144.4H1364.2V145.7H1376.8V147.1H1374.3V148.5H1373V149.9H1372V151.3H1372.4V152.6H1369.8V154H1372.6V155.4H1375.1V156.8H1377.9V158.2H1378.8V159.5V160.9V162.3V163.7H1377.9V165.1H1379.4V166.4H1380V167.8H1381.2V169.2H1381.4V170.6H1379.1V172H1379.3V173.4H1378.3V174.7H1377V176.1H1376.1V177.5V178.9H1375.5V180.3H1374.5V181.6H1374.3V183H1371.8V184.4H1369.8V185.8H1368.6V187.2H1366.2V188.5H1364.2V189.9H1363.5V191.3H1363.8V192.7H1362.9V194.1H1363.1V195.4H1361.7V196.8H1361.4V198.2H1363.9V199.6H1364.1V201H1366V202.3H1365.9V203.7H1365.4V205.1H1364.9V206.5H1364.6V207.9H1366.2V209.3H1365.5V210.6H1365.8V212V213.4H1367.6V214.8H1368.4V216.1H1368.2V217.5H1368.3V218.8H1368.5V220.1H1368.3V221.4H1368.9V222.8H1370.5V224.2H1370.6V225.5H1372.8V226.9H1373.2V228.3H1374V229.7H1374.9V231.1H1375.1V232.4H1374.8V233.8H1375.5V235.2H1376.9V236.6H1378.8V238H1382.3V239.4H1382.2V240.7H1383.4V242.1H1383.6V243.5H1383.3V244.9H1384.2V246.3H1384V247.6H1382.9V249H1382V250.4H1382.3V251.8H1381.8V253.2H1382V254.5V255.9H1383.6V257.3H1384.6V258.7H1383.8V260.1H1386.4V261.4H1387.6V262.8H1389.1V264.2H1390.4V265.6H1389.9V267H1391.2V268.4H1390.3V269.7H1392.9V271.1H1392.3V272.5H1392.9V273.9H1395.3V275.3H1395.4V276.6H1395.6V278H1396.1V279.4H1395.8V280.8H1395.7V282.2H1396.4V283.5H1398.1V284.9H1398.7V286.3H1397.9V287.7H1398.8V289.1H1399.4V290.4H1400.3V291.8H1398.9V293.2H1400.5V294.6H1399.6V296H1400.2V297.3H1399.8V298.7H1400.1V300.1H1401.9V301.5H1401.5V302.9H1402.7V304.3H1402.9V305.6H1402.5V307H1401.1V308.4H1401.9V309.8H1402.4V311.2H1401.8V312.6H1401.2V314H1401.7V315.5H1403.3V316.9H1403.5V318.3H1402.5V319.6H1403.3V320.9H1403.6V322.4V323.9V325.4V326.9V328.4V329.9V331.4V332.9V334.4V335.9H1404V337.4H1403.4V338.9H1402.7V340.3H1403.9V341.8H1403.1V343.3H1402.4V344.7H1401.6V346.2H1402.3V347.7H1402.6V349.1H1401.4V350.6H1401V352.1H1402.2V353.7H1402.7V355.2H1401.7V356.8H1402V358.4H1402.3V360H1402.2V361.5H1401.6V363.1H1401.9V364.7H1401.8V366.2H1401.9V367.8H1401.8V369.4H1402.4V371H1402.1V372.5H1403.3V374.1H1402V375.7H1402.7V377.2H1402.1V378.8H1400.7V380.4H1400.1V382H1400.5V383.5H1399.9V385.1V386.7H1399V388.2H1399.6V389.8H1399.9V391.4H1399.2V393H1398.7V394.5H1399.8V396.1H1398.6V397.7H1399.8V399.2H1399.2V400.8H1397.9V402.4H1398.6V403.9H1398V405.5H1399.1V407.1H1398.4V408.7H1397.7V410.2H1399.2V411.8H1398.8V413.4H1398.4V414.9H1398.3V416.5H1397.3V418H1399.2V419.5H1398.1V421H1398.7V422.4H1398.8V423.9H1399V425.4H1398.3V426.8H1400.1V428.3H1399.6V429.8V431.2H1400.6V432.7H1400.7V434.2H1400.5V435.6H1400.9V437.1H1400V438.6H1399.7V440H1400.2V441.5H1400.8V443H1401.2V444.4V445.9H1401.1V447.3H1400.9V448.8V450.2H1400.6V451.6H1399.5V453H1400.4V454.4H1399.8V455.9H1399.3V457.3H1400.1V458.8H1399.9V460.4V462V463.5V465.1V466.7H1400.6V468.3H1399.6V469.8H1400.4V471.3V472.8H1400.6V474.4H1401V475.9H1400.8V477.4H1399.7V478.9H1400.8V480.5H1400.4V482H1400.6V483.5H1401.1V485.1H1400.3V486.6H1401.1V488.1H1401.7V489.6H1400.2V491.2H1401.7V492.7H1401.5V494.2H1401V495.7H1401.7V497.3H1400.5V498.8H1400.7V500.3H1402.3V501.9H1401.6V503.4H1400.9V504.9V506.4H1401.5V508H1401.7V509.5H1402.6V511H1401.2V512.6H1402V514.1H1401.7V515.6H1402V517.1H1402.8V518.7H1401.4V520.2H1402.8V521.7H1402.6V523.2H1401.9V524.8H1401.7V526.3H1402.9V527.8H1403.2V529.4H1402.3V530.9H1402V532.4H1402.9V533.9H1403.2V535.5H1402.7V537H1402.8V538.5H1402.4V540H1402.5V541.6H1402.7V543.1H1403.8V544.6H1402.7V546.2H1402.9V547.7H1403.5V549.2H1403.1V550.7H1403.2V552.3H1404.2V553.8H1403.4V555.3H1404V556.8H1403.2V558.4H1404.1V559.9H1404.5V561.4H1404.1V563H1403.7V564.5H1403.5V566H1404V567.5H1404.4V569.1H1403.9V570.6H1404.5V572.1H1404.8V573.6H1404V575.2H1405.2V576.7H1405.8V578.2H1405.4V579.8H1405V581.3H1405.8V582.8H1406.1V584.3H1406.2V585.9H1406.3V587.3H1405.4V588.8V590.2V591.6V593V594.4V595.9V597.3H1405.9V598.7H1406.4V600.2H1406.3V601.7H1405.7V603.2H1405.6V604.7H1406.4V606.2H1407V607.7H1406.4V609.2H1406.8V610.7H1406.5V612.2H1406.6V613.7H1407.2V615.2H1408.4V616.7H1407.2V618.2H1407.6V619.7H1407.7V621.3H1408.4V622.8H1406.8V624.3H1406.1V625.9H1405.8V627.4H1406.1V628.9H1406.4V630.4V632V633.5V635V636.6V638.1V639.6V641.1V642.7V644.2V645.7V647.3V648.8V650.4V652V653.6V655.2V656.7V658.3V659.9V661.5V663.1V664.6V666.2V667.8V669.4V671V672.5V674.1V675.7V677.3V678.9V680.4V682V683.6V685.2V686.8V688.3V689.9V691.5H1405.5V693H1406.6V694.5H1405.4V696H1405.6V697.5H1405.3V698.9H1405.6V700.4H1405.2V701.9V703.4V704.8V706.3H1405.8V707.8H1405.3V709.3H1404.9V710H1490.6V709.2H1490.3V707.6V706V704.4V702.8V701.2V699.6V698V696.4V694.8V693.2V691.6V690V688.4V686.8V685.2V683.6V682V680.4V678.8V677.2V675.6V674V672.4V670.8V669.2V667.6V666V664.4V662.8V661.3V659.7V658.1V656.5V654.9V653.3V651.7V650.1V648.5V646.9V645.3V643.7V642.1V640.5V638.9V637.3V635.7V634.1V632.5V630.9V629.3V627.7V626.1V624.5V622.9V621.3V619.7V618.1V616.5V614.9V613.3V611.7V610.1V608.5V606.9V605.3V603.7V602.1V600.5V598.9V597.3V595.7V594.1V592.5V590.9V589.3V587.7V586.1V584.5V582.9V581.3V579.7V578.1V576.5V574.9V573.3V571.7V570.1V568.5H1490V567.3H1432.6V566.1H1432.1V564.5H1432V563H1432.1V561.5H1431V559.9H1431.3V558.4H1430.7V556.9H1430V555.3V553.8H1430.2V552.3H1431.1V550.7H1430.9V549.2H1430.3V547.7H1429.6V546.2H1430.5V544.6H1429.8V543.1H1429.3V541.6H1430.3V540V538.5V537H1430.1V535.5H1429.1V533.9H1430V532.4H1428.9V530.9H1428.8V529.3H1428.7V527.7H1429.8V526.1H1428.9V524.6H1428.5V523H1429V521.4H1428.9V519.9H1428.4V518.3H1428.7V516.7H1428.6V515.1H1429.4V513.6H1429V512H1428.6V510.4H1428.1V508.9H1428.3V507.4H1428.8V505.8V504.3H1428.4V502.8H1426.9V501.2H1427.6V499.7H1428V498.2H1427.9V496.7H1427V495.1H1426.2V493.6H1425.9V492.1H1427V490.6H1425.9V489.1H1425V487.7H1425.1V486.2H1424.5V484.7H1423.6V483.3H1422.9V481.8H1422.8V480.3H1422.2V478.9H1422.9V477.4H1421.2V475.9H1421.6V474.4H1421.5V472.8H1422V471.3H1422.1V469.8H1421.5V468.3H1420.5V466.7H1421.1V465.2H1421.4V463.7H1421V462.1H1420V460.6H1420.8V459.1H1420V458.2H1420.8V457.3H1419.4V455.9H1419.3V454.4H1420V453H1418.9V451.6H1420.2V450.2H1419.2V448.8H1419.8V447.3H1419.2V445.9H1419.6V444.3H1418.6V442.8H1418.1V441.3H1419.4V439.8H1418.5V438.2H1419.5V436.7H1418.9V435.2H1419.4V433.6H1417.8V432.1H1418.1V430.6H1419.2V429.1H1417.7V427.5H1417.4V426H1417.6V424.5H1418.4V423H1417.6V421.4H1417.7V419.9V418.4H1416.9V416.8H1418.3V415.3H1417.2V413.8H1417.1V412.3H1417.2V410.7H1417.1V409.2H1416.7V407.7H1416.6V406.2H1417.1V404.6H1417.9V403.1H1417.7V401.6H1417.9V400H1418.4V398.5H1417.3V397H1417.9V395.5H1417.4V393.9H1417.5V392.4H1417.7V390.9V389.4H1418V387.8H1418.6V386.3H1418.9V384.8H1418.7V383.2H1418.9V381.7H1418.7V380.2H1419.2V378.7H1419.9V377.1H1420.4V375.6H1419.1V374.1H1419.2V372.6H1420.1V371V369.5V368V366.4V364.9V363.4V361.9V360.3V358.8V357.3V355.7H1420.7V354.2V352.7H1421.3V351.2H1421.2V349.6H1421.1V348.1H1421.4V346.6H1420.8V345.1H1420.5V343.5H1420.8V342H1422V340.5H1422.1V338.9H1420.9V337.4H1421.1V335.9H1421.9V334.4V332.9V331.4V329.9V328.4V326.9V325.4V323.9V322.4V320.9H1421.3V319.6H1421.4V318.3H1420.9V316.9V315.5V314V312.6V311.2H1421.6V309.8H1420.9V308.4H1422.1V307H1420.7V305.6H1422.1V304.3H1422.9V302.9H1422.4V301.5H1423V300.1H1423.5V298.7H1422.2V297.3H1424V296H1422.8V294.6H1423.1V293.2H1424.1V291.8H1424.5V290.4H1424.3V289.1V287.7H1424.9V286.3H1426.1V284.9H1426V283.5H1426.6V282.2H1426.1V280.8H1426.3V279.4H1426.7V278H1427.1V276.6H1427.4V275.3V273.9H1427V272.5H1427.9V271.1H1428.4V269.7H1428.2V268.3H1428.1V266.7H1427.7V265.2H1428.5V263.7H1428.8V262.1H1428V260.6V259.1H1428.5V257.5H1429.5V256H1429V254.5H1429.2V252.9V251.4V249.9V248.3V246.8V245.3V243.7V242.2H1428.3V240.7H1428.8V239.4H1429.4V238H1428.9V236.6H1427.5V235.2H1427.7V233.8H1427.2V232.4H1427V231.1H1426.4V229.7H1425.1V228.3H1423V226.9H1421.8V225.5V224.2H1421.2V222.8H1420.3V221.4H1420.9V220V218.7H1418.9V217.4H1418.2V216.1H1417.5V214.8H1417V213.4H1419V212H1418.1V210.6H1419.8V209.3H1419.5V207.9H1420.1V206.5H1419.1V205.1V203.7H1419.7V202.3H1418.9V201H1418.3V199.6H1418.2V198.2H1417.9V196.8H1418V195.4H1416.9V194.1H1416.6V192.7H1416.5V191.3H1415.8V189.9H1416V188.5H1415.3V187.2H1420.2V185.8H1425V184.4H1426.3V183H1427.2V181.6H1427.9V180.3H1426.9V178.9H1425.9V177.5H1424.8V176.1H1424V174.7H1422.6V173.4H1423.9V172V170.6H1425.3V169.2H1419.7V167.8H1414.3V166.4H1415.6V165.1H1418.3V163.7H1420.2V162.3H1420.6V160.9H1422.3V159.5H1425.2V158.2H1420.8V156.8H1418.1V155.4H1419.4V154V152.6H1420.4V151.3H1420.5V149.9H1420V148.5H1423.4V147.1H1425.9V145.7H1427.7V144.4H1422.2V143H1415.7V141.6H1430.9V140.2H1431.1V138.8H1431.3V137.4H1430.1V136.1H1429.9V134.7H1430.1V133.3H1428.7V131.9H1428.4V130.5H1427.9V129.2H1426.5V127.8H1427.5V126.4H1427.1V125H1426.3V123.6H1425.3V122.3H1423.5V120.9H1420.4V119.5H1417.5V118.8Z" fill="#aa2350" fill-opacity="0.2"/>
<path d="M1353.7 118.8L1355.1 124.3L1367.5 129.9L1375.8 135.4L1378.5 139.5L1362 145L1374.4 146.4L1368.9 153.3L1377.2 157.5V164.4L1379.9 168.5L1374.4 176.8L1373 182.3L1366.1 186.5L1362 190.6L1360.6 197.5L1364.7 201.7L1363.3 211.3L1366.1 215.5L1367.5 222.1L1371.6 227.6L1374.4 234.5L1379.9 238.7L1382 244.2L1380.6 253.9L1382.7 259.4L1387.5 263.5L1389.6 269L1393 274.6L1395.1 282.9L1397.9 289.8L1398.6 296.7L1400.6 304.9L1399.9 310.5L1401.3 319L1402 320.2V336.7L1400.2 351.3L1401.1 373.3L1398.3 384.3L1397.4 395.3L1396.5 417.3L1398.3 432L1399.3 446.6L1398.3 458V467.5L1399.3 485.8L1400.2 513.3L1401.1 531.6L1402 550L1402.9 568.3L1403.8 586.6V598L1406.6 619L1404.8 628.1V646.5V692.3L1403.8 710H1405.6L1406.6 692.3V646.5V628.1L1408.4 619L1405.6 598V586.6L1404.7 568.3L1403.8 550L1402.9 531.6L1402 513.3L1401.1 485.8L1400.1 467.5V458L1401.1 446.6L1400.1 432L1398.3 417.3L1399.2 395.3L1400.1 384.3L1402.9 373.3L1402 351.3L1403.8 336.7V320.2L1403.1 319L1401.7 310.5L1402.4 304.9L1400.4 296.7L1399.7 289.8L1396.9 282.9L1394.8 274.6L1391.4 269L1389.3 263.5L1384.5 259.4L1382.4 253.9L1383.8 244.2L1381.7 238.7L1376.2 234.5L1373.4 227.6L1369.3 222.1L1367.9 215.5L1365.1 211.3L1366.5 201.7L1362.4 197.5L1363.8 190.6L1367.9 186.5L1374.8 182.3L1376.2 176.8L1381.7 168.5L1379 164.4V157.5L1370.7 153.3L1376.2 146.4L1363.8 145L1380.3 139.5L1377.6 135.4L1369.3 129.9L1356.9 124.3L1355.5 118.8Z" fill="#a020f0" fill-opacity="0.13"/>
<path d="M1417.2 118.8L1425.5 123L1426.9 128.5L1429.6 135.4L1431 140.9L1415.8 142.3L1428.3 145L1420 149.2L1418.6 156.1L1424.1 158.9L1414.5 167.1L1425.5 169.9L1422.7 174L1427.6 179.6L1425.5 185.1L1415.8 187.9L1417.2 194.8L1418.6 201.7L1420 207.2L1417.2 215.5L1420 219.3L1421.4 224.9L1426.9 231.8L1429 241.4V255.2L1427.6 269L1426.2 277.3L1425.5 285.6L1423.4 293.9L1422 302.2L1420.7 310.5V319L1421.7 320.2V336.7L1419.9 355V373.3L1418.1 391.6L1417.2 410L1418.1 428.3L1419 446.6L1419.9 458V458.3L1421.7 476.7L1426.3 491.3L1428.2 509.6L1429.1 531.6L1430 550H1431.8L1430.9 531.6L1430 509.6L1428.1 491.3L1423.5 476.7L1421.7 458.3V458L1420.8 446.6L1419.9 428.3L1419 410L1419.9 391.6L1421.7 373.3V355L1423.5 336.7V320.2L1422.5 319V310.5L1423.8 302.2L1425.2 293.9L1427.3 285.6L1428 277.3L1429.4 269L1430.8 255.2V241.4L1428.7 231.8L1423.2 224.9L1421.8 219.3L1419 215.5L1421.8 207.2L1420.4 201.7L1419 194.8L1417.6 187.9L1427.3 185.1L1429.4 179.6L1424.5 174L1427.3 169.9L1416.3 167.1L1425.9 158.9L1420.4 156.1L1421.8 149.2L1430.1 145L1417.6 142.3L1432.8 140.9L1431.4 135.4L1428.7 128.5L1427.3 123L1419 118.8Z" fill="#ffa500" fill-opacity="0.15"/>
<polyline points="1376,120.5 1376.8,121.8 1377.4,123 1379.5,124.2 1380.7,124.5 1382,125.4 1381.2,125.8 1382.9,127.1 1384.1,127.6 1384.6,128.9 1387.3,129.9 1387.7,130.5 1387.3,131.1 1388.7,132.7 1391.3,134 1391.2,134.7 1393.7,135.6 1394,136.2 1394.2,137 1396,138.1 1396.1,140 1396,141.6 1394.9,142 1393.2,142.3 1393.1,143.2 1391.6,143.9 1388.9,143.7 1387.7,145 1387,145 1388.4,146.3 1388.8,147.6 1388.4,149.2 1390.2,150 1390.5,152.1 1390.2,152.8 1391.2,154 1391,154.6 1392.3,155.5 1392.8,156.3 1393.9,157.4 1396,158.2 1395.7,159.6 1396,161.6 1398.6,162.2 1398.6,163.7 1400.5,164.6 1401.3,165.3 1402.2,165.8 1402,166.7 1403.8,166.9 1406.1,168.1 1406.4,168.5 1404.8,169.2 1403.5,170.6 1403.4,170.8 1402,171.4 1400.8,172.7 1399.1,173.7 1400.2,175.1 1397.9,176 1396.7,176.8 1395.3,178.2 1396.8,178.7 1394.6,180.3 1396.4,182 1395.3,183 1397.7,183.5 1396.7,185.1 1395.5,185.9 1395.4,186.2 1394.1,187.4 1393.4,188.1 1391.2,188.5 1391,189 1388.7,189.3 1387.1,189.7 1386,190 1383.7,190.4 1384.8,190.7 1382.2,191.3 1383.8,193.1 1382.5,194 1383.9,196.2 1382.4,197.4 1384,198.8 1382.2,199.9 1383.6,201.7 1384.2,203.2 1384.1,204.2 1384.7,206.1 1383.5,207.6 1383,208.6 1383.6,210.4 1383.6,211.3 1384.4,212.5 1383.5,213.9 1382.2,215.5 1383.5,217.3 1383,217.8 1382,219.4 1382.7,220.7 1381.5,222.2 1382.9,224 1385.4,224.7 1386.8,225.6 1387.2,226" fill="none" stroke="#fcae35" stroke-width="3.6" stroke-linejoin="round" stroke-linecap="round"/>
<polyline points="1387.2,226 1388.4,226.2 1389.4,227.1 1389.8,227.8 1390.9,228.6 1394.1,229.9 1394.7,229.9 1395.3,231.1 1396.7,232.3 1396.7,233.5 1397.3,234.7 1397.1,236 1398.1,237.3 1398.1,238.6 1398.3,240.1 1398.5,241.4 1398.6,242.8 1398.8,244.2 1403.6,252.5 1405,259.4 1406.4,266.3 1406.4,271.8 1409.1,278.7 1411.9,287 1414,296.7 1414,303.6 1416,311.8 1416,319 1413.7,320.2 1415.5,333 1413.1,344 1413.7,369.6 1408.7,379.7 1409.1,391.6 1411.9,395.3 1410,410 1411.3,421 1414.6,428.3 1414.6,437.5 1416.4,446.6 1417.4,458 1417.4,462 1418.3,474.8 1421,485.8 1421.9,495 1421,513.3 1422.9,522.5 1424.7,535.3 1426.5,550 1428.4,562.8 1432,575.6 1432,586.6 1432.9,598 1434.8,600.7 1437,611.7 1437.5,622.7 1433.8,630 1435.7,637.3 1437.5,646.5 1438.1,653.8 1435.7,661.1 1435.7,670.3 1434.8,681.3 1433.3,692.3 1432.6,703.3 1433.8,710.6" fill="none" stroke="#fcae35" stroke-width="2.7" stroke-linejoin="round" stroke-linecap="round"/>
<polyline points="1425.7,120.5 1424,121.7 1424.8,122.4 1423.1,123.1 1419.6,123.6 1419.2,124.5 1418.8,125 1417.2,125.5 1416.2,125.9 1415.6,126.7 1412.8,126.9 1413.1,126.8 1409.4,127.3 1409.9,127.7 1406.8,128.3 1406.4,128.5 1404.5,129.5 1402.6,129.7 1401.9,130.7 1399.8,131.2 1399.2,131.2 1398.1,131.9 1396.1,132.6 1397.2,133.8 1396.1,134.1 1392.9,134.7 1392.6,135.4 1391.6,135.9 1391.3,136.3 1387.6,137.1 1387,138.1 1387.4,137.9 1389,138.4 1392.5,138.8 1392.9,138.8 1393,139.2 1396,138.9 1396.7,139.5 1395.8,139.5 1394.5,139.9 1391.5,140 1392.1,140.7 1388.6,141.3 1387.7,140.9 1385.5,141.2 1385.8,142.1 1383.7,142 1382.9,142.3 1383,142.6 1385.1,142.4 1386.3,143 1389.9,142.4 1389.7,142.5 1391.9,143.5 1391.4,143.4 1393.4,143.2 1395.5,143.3 1397.2,143.4 1398.1,143.7 1399.5,143.7 1400.6,143.8 1401.8,144 1404,144.5 1404.7,145.3 1405.3,145.1 1407.7,145.3 1407,146.4 1406.5,147.1 1405.9,148.4 1403.6,149.2 1401.2,150 1401.4,151 1401,151.4 1399.7,152.2 1398.1,152.6 1396.5,153 1395.4,152.8 1394,153.6 1392.6,154 1391,154.6 1390.3,154.9 1388.6,155.3 1388.5,156.3 1386.3,156.9 1382.9,156.8 1382.5,157.6 1381.5,158.2 1382.6,158.4 1384.7,158.8 1386.2,158.7 1388.1,159.3 1389.8,158.6 1390,159 1391.2,159.5 1390.9,160.7 1388.9,160.7 1387,161.6 1386.8,162 1384.9,162 1381.7,163 1382.6,162.9 1378.9,163.1 1380,163.4 1378.1,163.8 1377.3,164.2 1376,164.7 1371.8,165 1371.6,165 1370.5,165.8 1367.8,166.4 1368.4,167.1 1365.8,167.1 1364.8,168.2 1363.6,168.5 1364.1,169.4 1367.8,169.4 1366.6,170.1 1368,171 1370.7,171 1372.9,171.9 1374,171.7 1374.6,172.7 1375.2,173.4 1377.5,174.2 1377.4,175.4 1377.6,175.5 1379.5,175.9 1381.1,175.5 1383.4,176.6 1384.9,176.4 1384.4,176.1 1387.5,177.1 1388.4,176.8 1389.7,178 1390,178 1392.6,178.9 1390.8,179.7 1389.8,180.2 1387.7,180.8 1388.5,180.9 1385.6,181.7 1385.4,182.4 1384.3,183 1387,183.2 1387.4,184.2 1388.8,184.5 1390.6,185.7 1389.7,185.7 1392.6,186.5 1392.5,187 1396.1,187.2 1398.1,188 1398.6,187.7 1399.5,188.5 1400.2,189.1 1402,188.7 1401.9,189.5 1404.1,189 1406.1,189.9 1407.6,189.4 1410,190 1410.4,190.1 1410.9,190.2 1413.5,190.5 1414.3,191.3 1415.3,191.3 1415.5,191.4 1413.4,192.3 1410,193.1 1409.9,193.6 1408,193.9 1406.5,194.8 1406.4,195.4 1406.2,196.2 1409.4,196.6 1410.8,196.8 1412.6,197.1 1413.4,197.1 1414,197.5 1413.6,198.4 1411.7,198.9 1410.7,198.6 1409.9,199.1 1406.1,200 1405.7,200.3 1408.5,201 1407.4,201 1409.4,201.9 1410.1,202.4 1411.8,202.1 1414,203 1414.1,204.1 1412.5,204.8 1410.6,205.5 1409.7,205.8 1409,206.8 1407.1,207.2 1408.7,207.6 1409.6,207.9 1410.5,209 1412.8,209.4 1413.3,209.9 1413.9,211.7 1414.8,212.7 1415.3,214.1 1413,215 1414.1,215.8 1412.6,215.4 1410.3,216.2 1409.9,216.7 1408.4,218.1 1407.1,218.2 1408.9,218.8 1410.4,219.5 1411.4,220 1411.9,221 1412.7,222.5 1411.2,224 1408.5,224.1 1408.4,224.3 1407.6,224.6 1406,225.5 1404.7,225.2 1403.9,225.9 1402.4,226 1400.5,226.7" fill="none" stroke="#2a2af5" stroke-width="3.5" stroke-linejoin="round" stroke-linecap="round"/>
<polyline points="1400.5,226.7 1399,226.5 1398.1,226.9 1398.2,227.7 1394.7,228.2 1394.4,228.7 1393.3,228.9 1391.6,229.5 1391.8,229.8 1388.9,230.8 1388.4,231.1 1387.2,231.6 1386.3,232.2 1384.2,232.8 1383.7,233.5 1382.3,233.8 1381.5,234.5 1381.5,236.1 1381.3,237.3 1381.2,238.6 1380.8,240 1378.1,246.9 1367.7,252.5 1368.4,259.4 1362.9,263.5 1364.9,267.7 1362.9,270.4 1364.9,273.2 1359.4,278.7 1353.9,284.2 1353.2,291.1 1347.7,293.9 1347.7,298 1352.5,302.9 1347.7,307 1343.5,313.9 1348.4,319 1347.7,325.7 1345.9,333 1350.5,341.2 1351.4,347.7 1353.2,354.1 1352.3,362.3 1351.4,371.5 1356.9,376.1 1360.5,379.7 1357.8,383.4 1360.5,389.8 1353.2,395.3 1356,399.9 1356,410 1356.9,419.1 1348.6,424.6 1346.8,430.1 1351.4,437.5 1345.9,444.8 1343.1,458 1343.5,465.7 1339.5,473.9 1342.8,477.6 1340.4,484.9 1334,489.5 1334.9,495 1333,504.1 1334,510.6 1336.7,515.1 1331.2,522.5 1332.1,527.1 1328.5,535.3 1325.7,541.7 1326.3,550 1323.9,555.5 1326.3,559.1 1323,564.6 1317.5,570.1 1312.9,575.6 1313.8,581.1 1312.9,588.5 1312.9,594 1311.6,598 1307.4,603.4 1304.1,608.9 1306.8,612.6 1303.2,617.2 1302.4,620.8 1310.1,629.1 1306.5,633.3 1307.9,636.4 1304.6,642.8 1303.2,648.3 1301.3,652.9 1306.5,660.2 1304.6,666.6 1307.4,674 1308.3,681.3 1310.5,690.5 1312,696 1312.3,706 1310.5,710.6" fill="none" stroke="#2a2af5" stroke-width="2.6" stroke-linejoin="round" stroke-linecap="round"/>
<polyline points="1369.1,120.5 1369.9,122 1370.5,123 1372.3,124 1372,124.8 1374,125.3 1375.7,126.2 1376,126.4 1376.4,127 1378.9,127.9 1380.1,128.3 1381.8,128.7 1381.5,129.9 1383,130.7 1381.7,132 1382.7,132.5 1384.3,133.4 1385.7,134.7 1385.7,135.1 1388.8,136 1387.7,136.8 1389.8,138.1 1390.6,139.3 1389.8,140.9 1388.4,141.6 1387,142.1 1385.3,142.5 1384.6,143.8 1382.9,144.2 1382.7,144.8 1380.1,145 1380.9,146.5 1379.4,147.7 1380.8,149.2 1383,150.3 1383.7,151.2 1384.3,152.6 1385.4,153.3 1386.8,154.9 1385.3,155.7 1386.4,157 1388.4,157.5 1387.7,158.5 1390.1,160.4 1389.1,161.6 1388.7,162.4 1392.3,162.9 1393.2,163.9 1393.4,164.8 1394.6,165.8 1394.5,166.2 1397.2,167 1398.5,167.1 1399.9,167.7 1400.8,168.5 1400.8,168.9 1399.2,169.7 1397.3,170.8 1395.8,172 1394.6,172.7 1394.7,173.2 1394.1,174.9 1390.9,176 1391.2,176.8 1391.4,177.8 1390.9,178.7 1389.1,180.3 1389.5,181.2 1391.1,182.5 1389.9,184.4 1391.2,185.1 1389.5,185.6 1389,185.9 1388,186.9 1385.6,187.6 1384.3,187.9 1384,188 1382.9,189 1381,189.8 1380.1,190.4 1376.6,190.4 1376,191.3 1375.9,192.5 1375.6,194.3 1376.6,195.6 1377.6,196.9 1376.8,198.6 1377.5,200.6 1377.4,201.7 1377.7,202.5 1377.9,204.3 1377.4,205.9 1376.9,207.5 1377.5,208.4 1378.1,209.5 1378.1,211.3 1377.1,213.2 1376,214 1376.7,215.5 1377.6,216.9 1377.3,218.7 1378.1,219.7 1376.7,220.7 1378,222.2 1377.4,224 1378.4,224.2 1380.4,225.2 1379.7,225.9 1380.8,226.3" fill="none" stroke="#b044f0" stroke-width="3.6" stroke-linejoin="round" stroke-linecap="round"/>
<polyline points="1380.8,226.3 1382.5,227.3 1384.3,227.6 1385.6,228.2 1386.1,229.2 1388.3,230 1389.2,230.6 1389.8,231.8 1389.9,233.3 1391,234.3 1391.6,235.9 1392.6,237.3 1394.6,245.6 1398.8,252.5 1399.5,259.4 1401.5,266.3 1400.8,271.8 1403.6,278.7 1406.4,287 1408.4,296.7 1407.7,302.2 1410.5,310.5 1411.2,319 1408.2,320.2 1409.1,331.2 1407.3,344 1407.3,369.6 1402.7,379.7 1404.5,391.6 1406.4,399 1404.5,410 1405.4,421 1409.1,428.3 1408.2,437.5 1410.9,446.6 1411.9,458 1411.9,462 1412.8,474.8 1415.5,485.8 1416.4,495 1415.5,513.3 1417.4,522.5 1419.2,535.3 1421,550 1422.9,562.8 1426.5,575.6 1426.5,586.6 1427.4,598 1429.3,600.7 1432,611.7 1432.6,622.7 1428.4,629.1 1430.2,637.3 1432,646.5 1432.9,653.8 1430.7,661.1 1431.1,670.3 1429.3,681.3 1427.4,692.3 1427.1,703.3 1427.8,710.6" fill="none" stroke="#b044f0" stroke-width="2.7" stroke-linejoin="round" stroke-linecap="round"/>
</g>
<rect x="1165.5" y="67.7" width="362.7" height="673.9" fill="none" stroke="#2a2a2a" stroke-width="2.15"/>
<path d="M1159.5 98.20H1165.5M1159.5 220.75H1165.5M1159.5 343.30H1165.5M1159.5 465.85H1165.5M1159.5 588.40H1165.5M1159.5 710.95H1165.5M1195.00 741.6V747.2M1342.55 741.6V747.2M1490.10 741.6V747.2" stroke="#333" stroke-width="2" fill="none"/>
</g>
<text x="348.6" y="23.2" font-size="28.2" text-anchor="middle">Model 1</text>
<text x="346.5" y="55.4" font-size="27.15" text-anchor="middle">Standing water and precipitation</text>
<text x="909.5" y="22.0" font-size="29.3" text-anchor="middle">Model 2</text>
<text x="901.2" y="53.8" font-size="27.13" text-anchor="middle">Standing water, river and precipitation</text>
<text x="1358.4" y="22.0" font-size="29.3" text-anchor="middle">Model 3</text>
<text x="1350.5" y="54.2" font-size="27.2" text-anchor="middle">Standing water and 2 precipitation</text>
<text x="348.0" y="797.9" font-size="29.2" text-anchor="middle">Fractional contribution</text>
<text x="912.7" y="801.7" font-size="29.2" text-anchor="middle">Fractional contribution</text>
<text x="1368.0" y="795.8" font-size="29.2" text-anchor="middle">Fractional contribution</text>
<text x="1596.8" y="119.4" font-size="29" text-anchor="start">Modern</text>
<text x="1596.8" y="302.3" font-size="29" text-anchor="start">Late</text>
<text x="1596.8" y="337.2" font-size="29" text-anchor="start">Holocene</text>
<text x="1596.8" y="450.2" font-size="29" text-anchor="start">Early</text>
<text x="1596.8" y="484.8" font-size="29" text-anchor="start">Holocene</text>
<text x="1596.8" y="668.4" font-size="29" text-anchor="start">Pleistocene</text>
<text x="368.4" y="853.6" font-size="29" text-anchor="start">River</text>
<text x="568.9" y="853.6" font-size="29" text-anchor="start">Precipitation</text>
<text x="856.7" y="853.6" font-size="29" text-anchor="start">Standing water</text>
<text x="1179.4" y="853.6" font-size="29" text-anchor="start">Precipitation 2</text>
<text x="20.9" y="396.0" font-size="29.3" text-anchor="middle" transform="rotate(-90 20.9 396.0)">Depth (below ground level in meters)</text>
<text x="77.0" y="104.0" font-size="29.8" text-anchor="end">0</text>
<text x="79.3" y="231.6" font-size="29.8" text-anchor="end">50</text>
<text x="82.0" y="352.2" font-size="29.8" text-anchor="end">100</text>
<text x="82.0" y="470.4" font-size="29.8" text-anchor="end">150</text>
<text x="82.0" y="594.6" font-size="29.8" text-anchor="end">200</text>
<text x="82.0" y="713.9" font-size="29.8" text-anchor="end">250</text>
<text x="119.3" y="771.0" font-size="29" text-anchor="middle">0</text>
<text x="276.5" y="771.0" font-size="29" text-anchor="middle">0.25</text>
<text x="423.5" y="771.0" font-size="29" text-anchor="middle">0.50</text>
<text x="573.5" y="771.0" font-size="29" text-anchor="middle">0.75</text>
<text x="684.0" y="774.2" font-size="29" text-anchor="middle">0</text>
<text x="840.4" y="774.2" font-size="29" text-anchor="middle">0.25</text>
<text x="987.3" y="774.2" font-size="29" text-anchor="middle">0.50</text>
<text x="1136.4" y="774.2" font-size="29" text-anchor="middle">0.75</text>
<text x="1199.9" y="769.0" font-size="29" text-anchor="middle">0</text>
<text x="1356.8" y="769.0" font-size="29" text-anchor="middle">0.25</text>
<text x="1503.8" y="769.0" font-size="29" text-anchor="middle">0.50</text>
<text x="136.5" y="93.2" font-size="26.5" text-anchor="middle" textLength="30.5" lengthAdjust="spacingAndGlyphs">(a)</text>
<text x="702.0" y="93.0" font-size="26.9" text-anchor="middle" textLength="32.5" lengthAdjust="spacingAndGlyphs">(b)</text>
<text x="1212.3" y="91.3" font-size="26.3" text-anchor="middle" textLength="29.0" lengthAdjust="spacingAndGlyphs">(c)</text>
<rect x="1538.8" y="97.8" width="53.6" height="612.6" fill="url(#cb)" stroke="#a5282a" stroke-width="2"/>
<line x1="268.9" y1="841.8" x2="357.1" y2="841.8" stroke="#a020f0" stroke-width="2.2"/>
<line x1="468.7" y1="841.8" x2="557.2" y2="841.8" stroke="#ffa500" stroke-width="2.2"/>
<line x1="757.4" y1="841.8" x2="846.7" y2="841.8" stroke="#0000ff" stroke-width="2.2"/>
<line x1="1079.5" y1="841.8" x2="1168.4" y2="841.8" stroke="#a52a2a" stroke-width="2.2"/>
</svg>
</body></html>
